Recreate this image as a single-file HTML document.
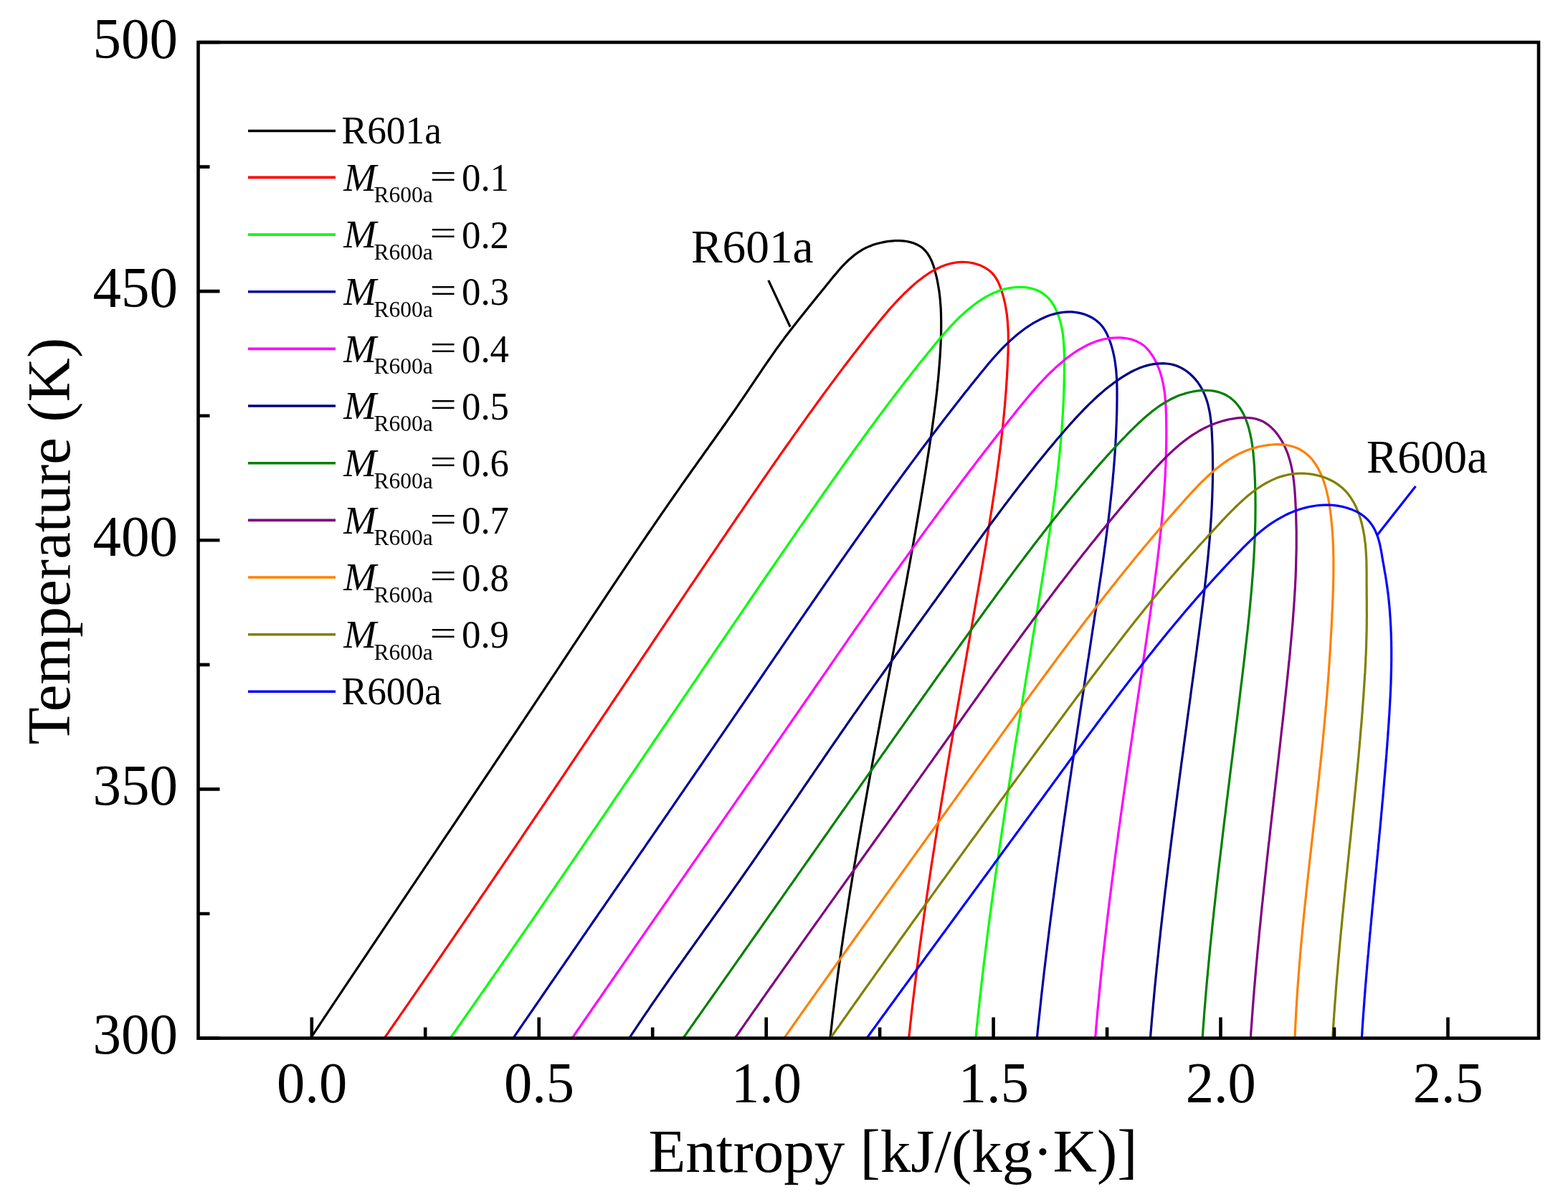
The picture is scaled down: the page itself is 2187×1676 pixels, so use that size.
<!DOCTYPE html>
<html><head><meta charset="utf-8"><title>T-s diagram</title>
<style>html,body{margin:0;padding:0;background:#fff;}svg{display:block;}</style>
</head><body>
<svg width="2187" height="1676" viewBox="0 0 2187 1676">
<rect x="0" y="0" width="2187" height="1676" fill="#ffffff"/>
<defs><clipPath id="pa"><rect x="276.5" y="59.0" width="1869.5" height="1388.6"/></clipPath></defs>
<g>
<g clip-path="url(#pa)" fill="none" stroke-width="3.2" stroke-linejoin="round">
<path d="M433.0,1448.0 L435.8,1443.7 L438.7,1439.5 L441.5,1435.2 L444.3,1431.0 L447.2,1426.7 L450.0,1422.4 L452.8,1418.2 L455.7,1413.9 L458.5,1409.7 L461.4,1405.4 L464.2,1401.1 L467.0,1396.9 L469.9,1392.6 L472.7,1388.4 L475.6,1384.1 L478.4,1379.9 L481.2,1375.6 L484.1,1371.4 L486.9,1367.1 L489.8,1362.9 L492.6,1358.6 L495.5,1354.3 L498.3,1350.1 L501.2,1345.8 L504.0,1341.6 L506.9,1337.3 L509.7,1333.1 L512.6,1328.8 L515.4,1324.6 L518.3,1320.3 L521.1,1316.1 L524.0,1311.8 L526.8,1307.6 L529.7,1303.3 L532.5,1299.1 L535.4,1294.8 L538.2,1290.6 L541.1,1286.3 L543.9,1282.1 L546.8,1277.9 L549.6,1273.6 L552.5,1269.4 L555.3,1265.1 L558.2,1260.9 L561.0,1256.6 L563.9,1252.4 L566.7,1248.1 L569.6,1243.9 L572.4,1239.6 L575.3,1235.4 L578.2,1231.1 L581.0,1226.9 L583.9,1222.6 L586.7,1218.4 L589.6,1214.2 L592.4,1209.9 L595.3,1205.7 L598.1,1201.4 L601.0,1197.2 L603.9,1192.9 L606.7,1188.7 L609.6,1184.4 L612.4,1180.2 L615.3,1175.9 L618.1,1171.7 L621.0,1167.4 L623.8,1163.2 L626.7,1159.0 L629.6,1154.7 L632.4,1150.5 L635.3,1146.2 L638.1,1142.0 L641.0,1137.7 L643.8,1133.5 L646.7,1129.2 L649.5,1125.0 L652.4,1120.7 L655.2,1116.5 L658.1,1112.2 L660.9,1108.0 L663.8,1103.7 L666.6,1099.5 L669.5,1095.2 L672.3,1091.0 L675.2,1086.7 L678.0,1082.5 L680.9,1078.2 L683.8,1074.0 L686.6,1069.7 L689.4,1065.5 L692.3,1061.2 L695.1,1057.0 L698.0,1052.7 L700.8,1048.5 L703.7,1044.2 L706.5,1040.0 L709.4,1035.7 L712.2,1031.5 L715.1,1027.2 L717.9,1023.0 L720.8,1018.7 L723.6,1014.5 L726.4,1010.2 L729.3,1006.0 L732.1,1001.7 L735.0,997.4 L737.8,993.2 L740.7,988.9 L743.5,984.7 L746.3,980.4 L749.2,976.2 L752.0,971.9 L754.8,967.6 L757.7,963.4 L760.5,959.1 L763.3,954.9 L766.2,950.6 L769.0,946.3 L771.8,942.1 L774.7,937.8 L777.5,933.5 L780.3,929.3 L783.2,925.0 L786.0,920.7 L788.8,916.5 L791.7,912.2 L794.5,907.9 L797.3,903.7 L800.1,899.4 L803.0,895.1 L805.8,890.9 L808.6,886.6 L811.4,882.3 L814.3,878.1 L817.1,873.8 L819.9,869.5 L822.7,865.3 L825.6,861.0 L828.4,856.7 L831.2,852.5 L834.1,848.2 L836.9,844.0 L839.7,839.7 L842.6,835.4 L845.4,831.2 L848.2,826.9 L851.1,822.6 L853.9,818.4 L856.7,814.1 L859.6,809.9 L862.4,805.6 L865.3,801.4 L868.1,797.1 L871.0,792.9 L873.8,788.6 L876.7,784.4 L879.5,780.1 L882.4,775.9 L885.2,771.6 L888.1,767.4 L891.0,763.2 L893.8,758.9 L896.7,754.7 L899.6,750.5 L902.5,746.2 L905.3,742.0 L908.2,737.8 L911.1,733.6 L914.0,729.3 L916.9,725.1 L919.8,720.9 L922.7,716.7 L925.6,712.5 L928.5,708.3 L931.4,704.1 L934.3,699.9 L937.3,695.7 L940.2,691.5 L943.1,687.3 L946.1,683.1 L949.0,678.9 L951.9,674.7 L954.9,670.5 L957.8,666.4 L960.8,662.2 L963.7,658.0 L966.7,653.8 L969.7,649.7 L972.6,645.5 L975.6,641.3 L978.6,637.2 L981.5,633.0 L984.5,628.8 L987.5,624.7 L990.4,620.5 L993.4,616.3 L996.4,612.2 L999.3,608.0 L1002.3,603.8 L1005.3,599.6 L1008.2,595.5 L1011.2,591.3 L1014.1,587.1 L1017.0,582.9 L1020.0,578.7 L1022.9,574.5 L1025.8,570.3 L1028.7,566.1 L1031.6,561.8 L1034.5,557.6 L1037.4,553.4 L1040.3,549.2 L1043.2,544.9 L1046.0,540.7 L1048.9,536.4 L1051.8,532.1 L1054.6,527.9 L1057.5,523.6 L1060.4,519.4 L1063.2,515.1 L1066.1,510.9 L1069.0,506.7 L1071.9,502.5 L1074.8,498.3 L1077.7,494.1 L1080.7,489.9 L1083.6,485.7 L1086.6,481.6 L1089.6,477.5 L1092.7,473.4 L1095.7,469.3 L1098.8,465.3 L1101.9,461.2 L1105.0,457.2 L1108.1,453.2 L1111.3,449.2 L1114.4,445.2 L1117.6,441.2 L1120.8,437.2 L1124.0,433.2 L1127.2,429.2 L1130.4,425.2 L1133.7,421.3 L1136.9,417.3 L1140.1,413.3 L1143.4,409.3 L1146.6,405.3 L1149.9,401.3 L1153.1,397.2 L1156.4,393.2 L1159.7,389.1 L1162.9,385.1 L1166.3,381.2 L1169.6,377.2 L1173.0,373.4 L1176.5,369.7 L1180.1,366.0 L1183.7,362.5 L1187.5,359.2 L1191.3,356.0 L1195.3,353.0 L1199.4,350.3 L1203.7,347.7 L1208.1,345.4 L1212.7,343.4 L1217.4,341.6 L1222.3,340.0 L1227.3,338.7 L1232.5,337.6 L1237.8,336.7 L1243.1,336.1 L1248.5,335.7 L1253.9,335.6 L1259.2,335.9 L1264.4,336.5 L1269.5,337.6 L1274.3,339.0 L1278.9,340.9 L1283.2,343.3 L1287.1,346.1 L1290.5,349.5 L1293.5,353.2 L1296.1,357.3 L1298.4,361.7 L1300.4,366.4 L1302.2,371.3 L1303.7,376.3 L1305.0,381.3 L1306.3,386.4 L1307.4,391.5 L1308.3,396.5 L1309.2,401.6 L1310.0,406.7 L1310.6,411.8 L1311.2,416.9 L1311.6,422.0 L1312.0,427.1 L1312.3,432.2 L1312.5,437.3 L1312.6,442.4 L1312.7,447.6 L1312.7,452.7 L1312.7,457.8 L1312.6,462.9 L1312.5,468.0 L1312.3,473.1 L1312.1,478.2 L1311.9,483.3 L1311.6,488.4 L1311.3,493.5 L1311.0,498.6 L1310.6,503.7 L1310.2,508.8 L1309.8,513.9 L1309.4,519.0 L1308.9,524.1 L1308.5,529.2 L1307.9,534.3 L1307.4,539.4 L1306.9,544.5 L1306.3,549.5 L1305.7,554.6 L1305.1,559.7 L1304.5,564.8 L1303.8,569.8 L1303.2,574.9 L1302.5,580.0 L1301.8,585.1 L1301.1,590.1 L1300.4,595.2 L1299.7,600.3 L1298.9,605.3 L1298.2,610.4 L1297.4,615.5 L1296.7,620.5 L1295.9,625.6 L1295.1,630.7 L1294.3,635.7 L1293.5,640.8 L1292.7,645.8 L1291.9,650.9 L1291.1,655.9 L1290.3,661.0 L1289.5,666.0 L1288.7,671.1 L1287.8,676.1 L1287.0,681.2 L1286.2,686.2 L1285.3,691.3 L1284.5,696.3 L1283.6,701.4 L1282.8,706.4 L1281.9,711.5 L1281.0,716.5 L1280.2,721.5 L1279.3,726.6 L1278.4,731.6 L1277.5,736.7 L1276.7,741.7 L1275.8,746.7 L1274.9,751.8 L1274.0,756.8 L1273.1,761.9 L1272.2,766.9 L1271.3,771.9 L1270.4,777.0 L1269.5,782.0 L1268.6,787.0 L1267.7,792.1 L1266.7,797.1 L1265.8,802.1 L1264.9,807.2 L1264.0,812.2 L1263.1,817.2 L1262.1,822.3 L1261.2,827.3 L1260.3,832.3 L1259.3,837.4 L1258.4,842.4 L1257.5,847.4 L1256.5,852.4 L1255.6,857.5 L1254.7,862.5 L1253.7,867.5 L1252.8,872.6 L1251.8,877.6 L1250.9,882.6 L1249.9,887.7 L1249.0,892.7 L1248.1,897.7 L1247.1,902.7 L1246.2,907.8 L1245.2,912.8 L1244.3,917.8 L1243.3,922.9 L1242.4,927.9 L1241.4,932.9 L1240.5,937.9 L1239.5,943.0 L1238.6,948.0 L1237.6,953.0 L1236.7,958.1 L1235.7,963.1 L1234.8,968.1 L1233.8,973.2 L1232.9,978.2 L1231.9,983.2 L1231.0,988.2 L1230.0,993.3 L1229.1,998.3 L1228.1,1003.3 L1227.2,1008.4 L1226.3,1013.4 L1225.3,1018.4 L1224.4,1023.5 L1223.4,1028.5 L1222.5,1033.5 L1221.6,1038.5 L1220.6,1043.6 L1219.7,1048.6 L1218.8,1053.6 L1217.8,1058.7 L1216.9,1063.7 L1216.0,1068.7 L1215.1,1073.8 L1214.1,1078.8 L1213.2,1083.8 L1212.3,1088.9 L1211.4,1093.9 L1210.5,1098.9 L1209.6,1104.0 L1208.7,1109.0 L1207.8,1114.1 L1206.9,1119.1 L1206.0,1124.1 L1205.1,1129.2 L1204.2,1134.2 L1203.3,1139.2 L1202.4,1144.3 L1201.5,1149.3 L1200.6,1154.4 L1199.8,1159.4 L1198.9,1164.4 L1198.0,1169.5 L1197.1,1174.5 L1196.3,1179.6 L1195.4,1184.6 L1194.6,1189.7 L1193.7,1194.7 L1192.9,1199.8 L1192.0,1204.8 L1191.2,1209.8 L1190.4,1214.9 L1189.5,1219.9 L1188.7,1225.0 L1187.9,1230.0 L1187.1,1235.1 L1186.2,1240.1 L1185.4,1245.2 L1184.6,1250.2 L1183.8,1255.3 L1183.0,1260.4 L1182.3,1265.4 L1181.5,1270.5 L1180.7,1275.5 L1179.9,1280.6 L1179.2,1285.6 L1178.4,1290.7 L1177.6,1295.8 L1176.9,1300.8 L1176.1,1305.9 L1175.4,1310.9 L1174.7,1316.0 L1173.9,1321.1 L1173.2,1326.1 L1172.5,1331.2 L1171.8,1336.3 L1171.1,1341.3 L1170.4,1346.4 L1169.7,1351.5 L1169.0,1356.5 L1168.3,1361.6 L1167.7,1366.7 L1167.0,1371.8 L1166.3,1376.8 L1165.7,1381.9 L1165.1,1387.0 L1164.4,1392.1 L1163.8,1397.1 L1163.2,1402.2 L1162.6,1407.3 L1161.9,1412.4 L1161.3,1417.5 L1160.7,1422.6 L1160.2,1427.6 L1159.6,1432.7 L1159.0,1437.8 L1158.5,1442.9 L1157.9,1448.0" stroke="#000000"/>
<path d="M535.8,1448.0 L538.6,1443.9 L541.5,1439.8 L544.3,1435.7 L547.2,1431.6 L550.0,1427.5 L552.8,1423.4 L555.7,1419.3 L558.5,1415.2 L561.4,1411.1 L564.2,1407.0 L567.0,1402.9 L569.9,1398.8 L572.7,1394.7 L575.5,1390.6 L578.4,1386.4 L581.2,1382.3 L584.0,1378.2 L586.8,1374.1 L589.7,1370.0 L592.5,1365.9 L595.3,1361.8 L598.2,1357.7 L601.0,1353.6 L603.8,1349.4 L606.6,1345.3 L609.4,1341.2 L612.3,1337.1 L615.1,1333.0 L617.9,1328.9 L620.7,1324.7 L623.5,1320.6 L626.4,1316.5 L629.2,1312.4 L632.0,1308.3 L634.8,1304.2 L637.6,1300.0 L640.4,1295.9 L643.2,1291.8 L646.1,1287.7 L648.9,1283.5 L651.7,1279.4 L654.5,1275.3 L657.3,1271.2 L660.1,1267.0 L662.9,1262.9 L665.7,1258.8 L668.5,1254.7 L671.3,1250.5 L674.1,1246.4 L677.0,1242.3 L679.8,1238.2 L682.6,1234.0 L685.4,1229.9 L688.2,1225.8 L691.0,1221.7 L693.8,1217.5 L696.6,1213.4 L699.4,1209.3 L702.2,1205.1 L705.0,1201.0 L707.8,1196.9 L710.6,1192.7 L713.4,1188.6 L716.2,1184.5 L719.0,1180.3 L721.8,1176.2 L724.6,1172.1 L727.4,1167.9 L730.1,1163.8 L732.9,1159.7 L735.7,1155.5 L738.5,1151.4 L741.3,1147.3 L744.1,1143.1 L746.9,1139.0 L749.7,1134.9 L752.5,1130.7 L755.3,1126.6 L758.1,1122.4 L760.9,1118.3 L763.6,1114.2 L766.4,1110.0 L769.2,1105.9 L772.0,1101.8 L774.8,1097.6 L777.6,1093.5 L780.4,1089.3 L783.2,1085.2 L786.0,1081.1 L788.7,1076.9 L791.5,1072.8 L794.3,1068.6 L797.1,1064.5 L799.9,1060.4 L802.7,1056.2 L805.4,1052.1 L808.2,1047.9 L811.0,1043.8 L813.8,1039.7 L816.6,1035.5 L819.4,1031.4 L822.2,1027.2 L824.9,1023.1 L827.7,1019.0 L830.5,1014.8 L833.3,1010.7 L836.1,1006.5 L838.8,1002.4 L841.6,998.2 L844.4,994.1 L847.2,990.0 L850.0,985.8 L852.7,981.7 L855.5,977.5 L858.3,973.4 L861.1,969.2 L863.9,965.1 L866.6,961.0 L869.4,956.8 L872.2,952.7 L875.0,948.5 L877.8,944.4 L880.5,940.2 L883.3,936.1 L886.1,932.0 L888.9,927.8 L891.7,923.7 L894.4,919.5 L897.2,915.4 L900.0,911.2 L902.8,907.1 L905.6,903.0 L908.3,898.8 L911.1,894.7 L913.9,890.5 L916.7,886.4 L919.5,882.2 L922.2,878.1 L925.0,874.0 L927.8,869.8 L930.6,865.7 L933.4,861.5 L936.2,857.4 L938.9,853.3 L941.7,849.1 L944.5,845.0 L947.3,840.8 L950.1,836.7 L952.9,832.6 L955.6,828.4 L958.4,824.3 L961.2,820.2 L964.0,816.0 L966.8,811.9 L969.6,807.8 L972.4,803.6 L975.2,799.5 L978.0,795.3 L980.8,791.2 L983.6,787.1 L986.4,782.9 L989.2,778.8 L992.0,774.7 L994.8,770.6 L997.6,766.4 L1000.4,762.3 L1003.2,758.2 L1006.0,754.0 L1008.8,749.9 L1011.6,745.8 L1014.4,741.7 L1017.2,737.5 L1020.0,733.4 L1022.8,729.3 L1025.6,725.2 L1028.4,721.0 L1031.2,716.9 L1034.1,712.8 L1036.9,708.7 L1039.7,704.6 L1042.5,700.4 L1045.3,696.3 L1048.2,692.2 L1051.0,688.1 L1053.8,684.0 L1056.7,679.9 L1059.5,675.7 L1062.3,671.6 L1065.2,667.5 L1068.0,663.4 L1070.8,659.3 L1073.7,655.2 L1076.5,651.1 L1079.4,647.0 L1082.2,642.9 L1085.1,638.8 L1087.9,634.7 L1090.8,630.6 L1093.7,626.5 L1096.5,622.5 L1099.4,618.4 L1102.3,614.3 L1105.2,610.2 L1108.0,606.1 L1110.9,602.1 L1113.8,598.0 L1116.7,593.9 L1119.6,589.9 L1122.5,585.8 L1125.4,581.8 L1128.3,577.7 L1131.2,573.7 L1134.2,569.6 L1137.1,565.6 L1140.0,561.5 L1143.0,557.5 L1145.9,553.5 L1148.8,549.4 L1151.8,545.4 L1154.8,541.4 L1157.7,537.4 L1160.7,533.4 L1163.7,529.4 L1166.6,525.4 L1169.6,521.4 L1172.6,517.4 L1175.6,513.4 L1178.6,509.5 L1181.6,505.5 L1184.7,501.5 L1187.7,497.6 L1190.7,493.6 L1193.8,489.7 L1196.8,485.7 L1199.9,481.8 L1202.9,477.9 L1206.0,474.0 L1209.1,470.0 L1212.2,466.1 L1215.2,462.2 L1218.3,458.3 L1221.5,454.4 L1224.6,450.6 L1227.7,446.7 L1230.9,442.8 L1234.1,439.0 L1237.3,435.2 L1240.5,431.4 L1243.8,427.7 L1247.2,424.0 L1250.5,420.3 L1254.0,416.7 L1257.5,413.1 L1261.0,409.5 L1264.6,406.1 L1268.3,402.6 L1272.0,399.2 L1275.8,395.9 L1279.7,392.6 L1283.7,389.5 L1287.7,386.4 L1291.9,383.5 L1296.1,380.7 L1300.3,378.1 L1304.7,375.7 L1309.1,373.5 L1313.6,371.5 L1318.1,369.7 L1322.8,368.2 L1327.5,367.1 L1332.3,366.2 L1337.1,365.6 L1342.0,365.4 L1347.0,365.5 L1352.0,366.0 L1357.0,366.9 L1362.0,368.2 L1366.7,369.8 L1371.3,371.9 L1375.7,374.3 L1379.7,377.2 L1383.4,380.4 L1386.6,384.1 L1389.4,388.1 L1391.8,392.4 L1393.9,397.0 L1395.7,401.7 L1397.3,406.5 L1398.8,411.3 L1400.1,416.1 L1401.2,420.9 L1402.3,425.8 L1403.1,430.7 L1403.9,435.6 L1404.6,440.5 L1405.1,445.5 L1405.5,450.4 L1405.8,455.4 L1406.1,460.4 L1406.3,465.3 L1406.3,470.3 L1406.4,475.3 L1406.3,480.3 L1406.2,485.4 L1406.1,490.4 L1405.9,495.4 L1405.7,500.4 L1405.5,505.4 L1405.3,510.4 L1405.0,515.4 L1404.7,520.4 L1404.5,525.4 L1404.1,530.4 L1403.8,535.4 L1403.5,540.4 L1403.1,545.4 L1402.7,550.3 L1402.3,555.3 L1401.9,560.3 L1401.5,565.3 L1401.0,570.3 L1400.6,575.2 L1400.1,580.2 L1399.6,585.2 L1399.1,590.1 L1398.6,595.1 L1398.0,600.0 L1397.5,605.0 L1396.9,610.0 L1396.3,614.9 L1395.8,619.9 L1395.2,624.8 L1394.6,629.8 L1393.9,634.7 L1393.3,639.7 L1392.6,644.6 L1392.0,649.5 L1391.3,654.5 L1390.6,659.4 L1390.0,664.4 L1389.3,669.3 L1388.6,674.2 L1387.8,679.2 L1387.1,684.1 L1386.4,689.0 L1385.6,694.0 L1384.9,698.9 L1384.1,703.8 L1383.4,708.7 L1382.6,713.7 L1381.8,718.6 L1381.0,723.5 L1380.2,728.4 L1379.4,733.4 L1378.6,738.3 L1377.8,743.2 L1377.0,748.1 L1376.2,753.0 L1375.4,758.0 L1374.5,762.9 L1373.7,767.8 L1372.9,772.7 L1372.0,777.6 L1371.2,782.5 L1370.3,787.5 L1369.5,792.4 L1368.6,797.3 L1367.8,802.2 L1366.9,807.1 L1366.1,812.0 L1365.2,816.9 L1364.4,821.9 L1363.5,826.8 L1362.6,831.7 L1361.8,836.6 L1360.9,841.5 L1360.1,846.4 L1359.2,851.3 L1358.3,856.3 L1357.5,861.2 L1356.6,866.1 L1355.7,871.0 L1354.9,875.9 L1354.0,880.8 L1353.2,885.7 L1352.3,890.7 L1351.4,895.6 L1350.6,900.5 L1349.7,905.4 L1348.8,910.3 L1348.0,915.2 L1347.1,920.1 L1346.3,925.1 L1345.4,930.0 L1344.5,934.9 L1343.7,939.8 L1342.8,944.7 L1341.9,949.6 L1341.1,954.6 L1340.2,959.5 L1339.4,964.4 L1338.5,969.3 L1337.7,974.2 L1336.8,979.1 L1335.9,984.1 L1335.1,989.0 L1334.2,993.9 L1333.4,998.8 L1332.5,1003.7 L1331.7,1008.6 L1330.8,1013.6 L1330.0,1018.5 L1329.1,1023.4 L1328.3,1028.3 L1327.5,1033.2 L1326.6,1038.2 L1325.8,1043.1 L1324.9,1048.0 L1324.1,1052.9 L1323.3,1057.8 L1322.4,1062.8 L1321.6,1067.7 L1320.8,1072.6 L1320.0,1077.5 L1319.1,1082.4 L1318.3,1087.4 L1317.5,1092.3 L1316.7,1097.2 L1315.9,1102.1 L1315.0,1107.1 L1314.2,1112.0 L1313.4,1116.9 L1312.6,1121.8 L1311.8,1126.8 L1311.0,1131.7 L1310.2,1136.6 L1309.4,1141.5 L1308.6,1146.5 L1307.8,1151.4 L1307.0,1156.3 L1306.3,1161.2 L1305.5,1166.2 L1304.7,1171.1 L1303.9,1176.0 L1303.2,1181.0 L1302.4,1185.9 L1301.6,1190.8 L1300.9,1195.7 L1300.1,1200.7 L1299.3,1205.6 L1298.6,1210.5 L1297.8,1215.5 L1297.1,1220.4 L1296.4,1225.3 L1295.6,1230.3 L1294.9,1235.2 L1294.2,1240.1 L1293.4,1245.1 L1292.7,1250.0 L1292.0,1255.0 L1291.3,1259.9 L1290.6,1264.8 L1289.8,1269.8 L1289.1,1274.7 L1288.4,1279.7 L1287.8,1284.6 L1287.1,1289.5 L1286.4,1294.5 L1285.7,1299.4 L1285.0,1304.4 L1284.4,1309.3 L1283.7,1314.3 L1283.0,1319.2 L1282.4,1324.1 L1281.7,1329.1 L1281.1,1334.0 L1280.4,1339.0 L1279.8,1343.9 L1279.1,1348.9 L1278.5,1353.8 L1277.9,1358.8 L1277.3,1363.7 L1276.7,1368.7 L1276.1,1373.6 L1275.5,1378.6 L1274.9,1383.5 L1274.3,1388.5 L1273.7,1393.4 L1273.1,1398.4 L1272.5,1403.4 L1271.9,1408.3 L1271.4,1413.3 L1270.8,1418.2 L1270.3,1423.2 L1269.7,1428.2 L1269.2,1433.1 L1268.7,1438.1 L1268.1,1443.0 L1267.6,1448.0" stroke="#FF0000"/>
<path d="M627.7,1448.0 L630.5,1444.0 L633.3,1440.1 L636.1,1436.1 L638.8,1432.1 L641.6,1428.2 L644.4,1424.2 L647.2,1420.2 L650.0,1416.2 L652.7,1412.3 L655.5,1408.3 L658.3,1404.3 L661.1,1400.3 L663.8,1396.4 L666.6,1392.4 L669.4,1388.4 L672.1,1384.4 L674.9,1380.5 L677.7,1376.5 L680.5,1372.5 L683.2,1368.5 L686.0,1364.5 L688.7,1360.6 L691.5,1356.6 L694.3,1352.6 L697.0,1348.6 L699.8,1344.6 L702.5,1340.6 L705.3,1336.7 L708.1,1332.7 L710.8,1328.7 L713.6,1324.7 L716.3,1320.7 L719.1,1316.7 L721.8,1312.7 L724.6,1308.7 L727.3,1304.7 L730.1,1300.8 L732.8,1296.8 L735.6,1292.8 L738.3,1288.8 L741.1,1284.8 L743.8,1280.8 L746.6,1276.8 L749.3,1272.8 L752.1,1268.8 L754.8,1264.8 L757.5,1260.8 L760.3,1256.8 L763.0,1252.8 L765.8,1248.8 L768.5,1244.8 L771.2,1240.8 L774.0,1236.8 L776.7,1232.8 L779.5,1228.9 L782.2,1224.9 L784.9,1220.9 L787.7,1216.9 L790.4,1212.9 L793.1,1208.9 L795.9,1204.9 L798.6,1200.8 L801.3,1196.8 L804.1,1192.8 L806.8,1188.8 L809.5,1184.8 L812.3,1180.8 L815.0,1176.8 L817.7,1172.8 L820.4,1168.8 L823.2,1164.8 L825.9,1160.8 L828.6,1156.8 L831.4,1152.8 L834.1,1148.8 L836.8,1144.8 L839.5,1140.8 L842.3,1136.8 L845.0,1132.8 L847.7,1128.8 L850.4,1124.8 L853.2,1120.8 L855.9,1116.7 L858.6,1112.7 L861.3,1108.7 L864.1,1104.7 L866.8,1100.7 L869.5,1096.7 L872.2,1092.7 L874.9,1088.7 L877.7,1084.7 L880.4,1080.7 L883.1,1076.7 L885.8,1072.6 L888.6,1068.6 L891.3,1064.6 L894.0,1060.6 L896.7,1056.6 L899.4,1052.6 L902.2,1048.6 L904.9,1044.6 L907.6,1040.6 L910.3,1036.5 L913.0,1032.5 L915.8,1028.5 L918.5,1024.5 L921.2,1020.5 L923.9,1016.5 L926.6,1012.5 L929.4,1008.5 L932.1,1004.5 L934.8,1000.4 L937.5,996.4 L940.2,992.4 L943.0,988.4 L945.7,984.4 L948.4,980.4 L951.1,976.4 L953.8,972.4 L956.6,968.3 L959.3,964.3 L962.0,960.3 L964.7,956.3 L967.4,952.3 L970.2,948.3 L972.9,944.3 L975.6,940.3 L978.3,936.3 L981.1,932.2 L983.8,928.2 L986.5,924.2 L989.2,920.2 L992.0,916.2 L994.7,912.2 L997.4,908.2 L1000.1,904.2 L1002.8,900.2 L1005.6,896.1 L1008.3,892.1 L1011.0,888.1 L1013.8,884.1 L1016.5,880.1 L1019.2,876.1 L1021.9,872.1 L1024.7,868.1 L1027.4,864.1 L1030.1,860.1 L1032.9,856.1 L1035.6,852.1 L1038.3,848.1 L1041.1,844.1 L1043.8,840.0 L1046.5,836.0 L1049.3,832.0 L1052.0,828.0 L1054.7,824.0 L1057.5,820.0 L1060.2,816.0 L1062.9,812.0 L1065.7,808.0 L1068.4,804.0 L1071.2,800.0 L1073.9,796.0 L1076.6,792.1 L1079.4,788.1 L1082.1,784.1 L1084.9,780.1 L1087.6,776.1 L1090.4,772.1 L1093.1,768.1 L1095.9,764.1 L1098.6,760.1 L1101.4,756.1 L1104.1,752.1 L1106.9,748.2 L1109.6,744.2 L1112.4,740.2 L1115.1,736.2 L1117.9,732.2 L1120.7,728.2 L1123.4,724.3 L1126.2,720.3 L1129.0,716.3 L1131.7,712.3 L1134.5,708.3 L1137.3,704.4 L1140.0,700.4 L1142.8,696.4 L1145.6,692.5 L1148.3,688.5 L1151.1,684.5 L1153.9,680.6 L1156.7,676.6 L1159.5,672.6 L1162.3,668.7 L1165.1,664.7 L1167.9,660.8 L1170.7,656.8 L1173.5,652.9 L1176.3,648.9 L1179.1,645.0 L1181.9,641.0 L1184.7,637.1 L1187.5,633.2 L1190.3,629.2 L1193.2,625.3 L1196.0,621.4 L1198.9,617.4 L1201.7,613.5 L1204.5,609.6 L1207.4,605.7 L1210.3,601.8 L1213.1,597.9 L1216.0,594.0 L1218.9,590.1 L1221.7,586.2 L1224.6,582.3 L1227.5,578.4 L1230.4,574.5 L1233.3,570.6 L1236.2,566.7 L1239.1,562.9 L1242.1,559.0 L1245.0,555.1 L1247.9,551.3 L1250.9,547.4 L1253.8,543.6 L1256.8,539.7 L1259.7,535.9 L1262.7,532.0 L1265.7,528.2 L1268.7,524.4 L1271.7,520.6 L1274.7,516.7 L1277.7,512.9 L1280.7,509.1 L1283.7,505.3 L1286.8,501.5 L1289.8,497.7 L1292.9,494.0 L1295.9,490.2 L1299.0,486.4 L1302.1,482.6 L1305.2,478.9 L1308.3,475.1 L1311.4,471.4 L1314.6,467.7 L1317.7,464.1 L1321.0,460.5 L1324.2,456.9 L1327.5,453.3 L1330.8,449.8 L1334.2,446.4 L1337.7,443.0 L1341.2,439.7 L1344.7,436.5 L1348.3,433.3 L1352.0,430.2 L1355.7,427.2 L1359.6,424.3 L1363.5,421.4 L1367.4,418.7 L1371.5,416.1 L1375.6,413.7 L1379.9,411.4 L1384.2,409.3 L1388.6,407.4 L1393.1,405.6 L1397.7,404.1 L1402.3,402.8 L1407.1,401.8 L1412.0,401.0 L1417.0,400.5 L1422.0,400.3 L1427.0,400.4 L1431.9,400.8 L1436.7,401.7 L1441.4,402.9 L1445.9,404.5 L1450.1,406.5 L1454.2,408.9 L1457.9,411.7 L1461.5,414.9 L1464.7,418.4 L1467.6,422.2 L1470.1,426.4 L1472.4,430.8 L1474.4,435.3 L1476.2,439.9 L1477.7,444.5 L1479.1,449.2 L1480.2,453.8 L1481.2,458.6 L1482.0,463.3 L1482.7,468.1 L1483.2,472.9 L1483.6,477.7 L1483.9,482.6 L1484.1,487.4 L1484.3,492.3 L1484.4,497.1 L1484.4,502.0 L1484.4,506.9 L1484.4,511.7 L1484.4,516.6 L1484.4,521.4 L1484.3,526.3 L1484.2,531.1 L1484.1,536.0 L1484.0,540.8 L1483.8,545.7 L1483.7,550.5 L1483.5,555.4 L1483.3,560.2 L1483.0,565.0 L1482.8,569.9 L1482.5,574.7 L1482.2,579.5 L1481.9,584.4 L1481.6,589.2 L1481.2,594.0 L1480.9,598.9 L1480.5,603.7 L1480.1,608.5 L1479.7,613.3 L1479.3,618.2 L1478.8,623.0 L1478.4,627.8 L1477.9,632.6 L1477.4,637.4 L1476.9,642.3 L1476.4,647.1 L1475.9,651.9 L1475.4,656.7 L1474.8,661.5 L1474.2,666.3 L1473.7,671.1 L1473.1,675.9 L1472.5,680.7 L1471.9,685.5 L1471.3,690.3 L1470.6,695.1 L1470.0,700.0 L1469.3,704.8 L1468.7,709.6 L1468.0,714.4 L1467.3,719.2 L1466.7,724.0 L1466.0,728.7 L1465.3,733.5 L1464.6,738.3 L1463.8,743.1 L1463.1,747.9 L1462.4,752.7 L1461.7,757.5 L1460.9,762.3 L1460.2,767.1 L1459.4,771.9 L1458.7,776.7 L1457.9,781.5 L1457.2,786.3 L1456.4,791.1 L1455.7,795.9 L1454.9,800.6 L1454.1,805.4 L1453.4,810.2 L1452.6,815.0 L1451.8,819.8 L1451.0,824.6 L1450.3,829.4 L1449.5,834.2 L1448.7,838.9 L1447.9,843.7 L1447.2,848.5 L1446.4,853.3 L1445.6,858.1 L1444.8,862.9 L1444.0,867.7 L1443.3,872.4 L1442.5,877.2 L1441.7,882.0 L1440.9,886.8 L1440.1,891.6 L1439.3,896.4 L1438.6,901.2 L1437.8,905.9 L1437.0,910.7 L1436.2,915.5 L1435.4,920.3 L1434.7,925.1 L1433.9,929.9 L1433.1,934.7 L1432.3,939.4 L1431.5,944.2 L1430.7,949.0 L1430.0,953.8 L1429.2,958.6 L1428.4,963.4 L1427.6,968.1 L1426.8,972.9 L1426.1,977.7 L1425.3,982.5 L1424.5,987.3 L1423.7,992.1 L1422.9,996.9 L1422.2,1001.6 L1421.4,1006.4 L1420.6,1011.2 L1419.9,1016.0 L1419.1,1020.8 L1418.3,1025.6 L1417.5,1030.3 L1416.8,1035.1 L1416.0,1039.9 L1415.2,1044.7 L1414.5,1049.5 L1413.7,1054.3 L1413.0,1059.1 L1412.2,1063.8 L1411.4,1068.6 L1410.7,1073.4 L1409.9,1078.2 L1409.2,1083.0 L1408.4,1087.8 L1407.7,1092.6 L1406.9,1097.4 L1406.2,1102.1 L1405.4,1106.9 L1404.7,1111.7 L1404.0,1116.5 L1403.2,1121.3 L1402.5,1126.1 L1401.8,1130.9 L1401.0,1135.7 L1400.3,1140.5 L1399.6,1145.2 L1398.9,1150.0 L1398.1,1154.8 L1397.4,1159.6 L1396.7,1164.4 L1396.0,1169.2 L1395.3,1174.0 L1394.6,1178.8 L1393.9,1183.6 L1393.2,1188.4 L1392.5,1193.2 L1391.8,1198.0 L1391.1,1202.7 L1390.4,1207.5 L1389.7,1212.3 L1389.0,1217.1 L1388.3,1221.9 L1387.7,1226.7 L1387.0,1231.5 L1386.3,1236.3 L1385.6,1241.1 L1385.0,1245.9 L1384.3,1250.7 L1383.7,1255.5 L1383.0,1260.3 L1382.4,1265.1 L1381.7,1269.9 L1381.1,1274.7 L1380.4,1279.5 L1379.8,1284.3 L1379.2,1289.1 L1378.5,1293.9 L1377.9,1298.7 L1377.3,1303.5 L1376.7,1308.3 L1376.1,1313.2 L1375.5,1318.0 L1374.9,1322.8 L1374.3,1327.6 L1373.7,1332.4 L1373.1,1337.2 L1372.5,1342.0 L1371.9,1346.8 L1371.4,1351.6 L1370.8,1356.4 L1370.2,1361.2 L1369.7,1366.1 L1369.1,1370.9 L1368.5,1375.7 L1368.0,1380.5 L1367.5,1385.3 L1366.9,1390.1 L1366.4,1395.0 L1365.9,1399.8 L1365.3,1404.6 L1364.8,1409.4 L1364.3,1414.2 L1363.8,1419.1 L1363.3,1423.9 L1362.8,1428.7 L1362.3,1433.5 L1361.8,1438.3 L1361.4,1443.2 L1360.9,1448.0" stroke="#00FF00"/>
<path d="M715.5,1448.0 L718.2,1444.1 L720.8,1440.2 L723.5,1436.4 L726.1,1432.5 L728.8,1428.6 L731.4,1424.7 L734.1,1420.9 L736.8,1417.0 L739.4,1413.1 L742.1,1409.3 L744.7,1405.4 L747.4,1401.5 L750.1,1397.6 L752.7,1393.8 L755.4,1389.9 L758.1,1386.0 L760.7,1382.1 L763.4,1378.3 L766.0,1374.4 L768.7,1370.5 L771.4,1366.6 L774.0,1362.8 L776.7,1358.9 L779.4,1355.0 L782.0,1351.2 L784.7,1347.3 L787.4,1343.4 L790.0,1339.5 L792.7,1335.7 L795.4,1331.8 L798.0,1327.9 L800.7,1324.0 L803.4,1320.2 L806.0,1316.3 L808.7,1312.4 L811.3,1308.6 L814.0,1304.7 L816.7,1300.8 L819.3,1296.9 L822.0,1293.1 L824.7,1289.2 L827.3,1285.3 L830.0,1281.5 L832.7,1277.6 L835.3,1273.7 L838.0,1269.8 L840.7,1266.0 L843.4,1262.1 L846.0,1258.2 L848.7,1254.4 L851.4,1250.5 L854.0,1246.6 L856.7,1242.7 L859.4,1238.9 L862.0,1235.0 L864.7,1231.1 L867.4,1227.2 L870.0,1223.4 L872.7,1219.5 L875.4,1215.6 L878.0,1211.8 L880.7,1207.9 L883.4,1204.0 L886.0,1200.1 L888.7,1196.3 L891.4,1192.4 L894.0,1188.5 L896.7,1184.7 L899.4,1180.8 L902.0,1176.9 L904.7,1173.0 L907.4,1169.2 L910.0,1165.3 L912.7,1161.4 L915.4,1157.5 L918.0,1153.7 L920.7,1149.8 L923.4,1145.9 L926.0,1142.1 L928.7,1138.2 L931.4,1134.3 L934.0,1130.4 L936.7,1126.6 L939.4,1122.7 L942.0,1118.8 L944.7,1114.9 L947.3,1111.1 L950.0,1107.2 L952.7,1103.3 L955.3,1099.4 L958.0,1095.6 L960.7,1091.7 L963.3,1087.8 L966.0,1084.0 L968.6,1080.1 L971.3,1076.2 L974.0,1072.3 L976.6,1068.5 L979.3,1064.6 L982.0,1060.7 L984.6,1056.8 L987.3,1053.0 L989.9,1049.1 L992.6,1045.2 L995.3,1041.3 L997.9,1037.4 L1000.6,1033.6 L1003.2,1029.7 L1005.9,1025.8 L1008.5,1021.9 L1011.2,1018.1 L1013.9,1014.2 L1016.5,1010.3 L1019.2,1006.4 L1021.8,1002.6 L1024.5,998.7 L1027.1,994.8 L1029.8,990.9 L1032.4,987.0 L1035.1,983.2 L1037.7,979.3 L1040.4,975.4 L1043.1,971.5 L1045.7,967.6 L1048.4,963.8 L1051.0,959.9 L1053.7,956.0 L1056.3,952.1 L1059.0,948.3 L1061.6,944.4 L1064.3,940.5 L1066.9,936.6 L1069.6,932.7 L1072.2,928.9 L1074.9,925.0 L1077.5,921.1 L1080.2,917.2 L1082.8,913.3 L1085.5,909.5 L1088.1,905.6 L1090.8,901.7 L1093.4,897.8 L1096.1,893.9 L1098.7,890.1 L1101.4,886.2 L1104.0,882.3 L1106.7,878.4 L1109.4,874.6 L1112.0,870.7 L1114.7,866.8 L1117.3,862.9 L1120.0,859.1 L1122.7,855.2 L1125.3,851.3 L1128.0,847.5 L1130.7,843.6 L1133.3,839.7 L1136.0,835.9 L1138.7,832.0 L1141.3,828.1 L1144.0,824.3 L1146.7,820.4 L1149.4,816.5 L1152.0,812.7 L1154.7,808.8 L1157.4,804.9 L1160.1,801.1 L1162.8,797.2 L1165.4,793.4 L1168.1,789.5 L1170.8,785.6 L1173.5,781.8 L1176.2,777.9 L1178.9,774.1 L1181.6,770.2 L1184.3,766.4 L1187.0,762.5 L1189.7,758.7 L1192.4,754.8 L1195.2,751.0 L1197.9,747.1 L1200.6,743.3 L1203.3,739.5 L1206.0,735.6 L1208.8,731.8 L1211.5,728.0 L1214.2,724.1 L1216.9,720.3 L1219.7,716.5 L1222.4,712.6 L1225.2,708.8 L1227.9,705.0 L1230.7,701.2 L1233.4,697.3 L1236.2,693.5 L1238.9,689.7 L1241.7,685.9 L1244.4,682.1 L1247.2,678.3 L1250.0,674.5 L1252.8,670.7 L1255.5,666.9 L1258.3,663.1 L1261.1,659.3 L1263.9,655.5 L1266.7,651.7 L1269.5,647.9 L1272.3,644.1 L1275.1,640.4 L1277.9,636.6 L1280.7,632.8 L1283.5,629.0 L1286.3,625.3 L1289.1,621.5 L1292.0,617.8 L1294.8,614.0 L1297.6,610.3 L1300.5,606.5 L1303.3,602.8 L1306.2,599.0 L1309.0,595.3 L1311.9,591.6 L1314.7,587.8 L1317.6,584.1 L1320.4,580.4 L1323.3,576.7 L1326.2,573.0 L1329.1,569.3 L1332.0,565.6 L1334.8,561.9 L1337.7,558.2 L1340.6,554.5 L1343.5,550.8 L1346.4,547.1 L1349.4,543.5 L1352.3,539.8 L1355.2,536.1 L1358.1,532.5 L1361.1,528.8 L1364.0,525.2 L1366.9,521.5 L1369.9,517.9 L1372.9,514.3 L1375.8,510.7 L1378.8,507.1 L1381.9,503.5 L1384.9,500.0 L1388.0,496.5 L1391.2,493.0 L1394.3,489.6 L1397.6,486.2 L1400.8,482.9 L1404.2,479.6 L1407.6,476.4 L1411.0,473.2 L1414.6,470.1 L1418.2,467.0 L1421.9,464.1 L1425.6,461.2 L1429.5,458.3 L1433.4,455.6 L1437.4,453.0 L1441.5,450.4 L1445.7,448.1 L1450.0,445.8 L1454.3,443.7 L1458.6,441.8 L1463.0,440.1 L1467.5,438.6 L1472.0,437.4 L1476.5,436.3 L1481.1,435.6 L1485.7,435.1 L1490.3,434.9 L1495.0,434.9 L1499.6,435.3 L1504.2,436.1 L1508.8,437.1 L1513.3,438.5 L1517.6,440.2 L1521.8,442.2 L1525.7,444.5 L1529.5,447.2 L1532.9,450.2 L1536.1,453.5 L1538.9,457.1 L1541.4,461.0 L1543.6,465.1 L1545.6,469.4 L1547.4,473.8 L1549.0,478.3 L1550.4,482.8 L1551.7,487.3 L1552.8,491.9 L1553.8,496.4 L1554.7,501.0 L1555.4,505.7 L1556.0,510.3 L1556.6,515.0 L1557.0,519.7 L1557.3,524.4 L1557.6,529.1 L1557.8,533.8 L1557.9,538.6 L1558.0,543.3 L1558.0,548.0 L1558.0,552.8 L1558.0,557.5 L1557.9,562.2 L1557.9,567.0 L1557.8,571.7 L1557.7,576.4 L1557.5,581.1 L1557.4,585.9 L1557.2,590.6 L1557.0,595.3 L1556.8,600.0 L1556.6,604.7 L1556.4,609.4 L1556.1,614.1 L1555.9,618.8 L1555.6,623.5 L1555.3,628.2 L1555.0,632.9 L1554.6,637.6 L1554.3,642.3 L1553.9,647.0 L1553.5,651.7 L1553.2,656.3 L1552.7,661.0 L1552.3,665.7 L1551.9,670.4 L1551.5,675.1 L1551.0,679.7 L1550.5,684.4 L1550.0,689.1 L1549.5,693.8 L1549.0,698.4 L1548.5,703.1 L1548.0,707.8 L1547.5,712.4 L1546.9,717.1 L1546.4,721.7 L1545.8,726.4 L1545.2,731.1 L1544.6,735.7 L1544.0,740.4 L1543.4,745.0 L1542.8,749.7 L1542.2,754.3 L1541.6,759.0 L1540.9,763.6 L1540.3,768.3 L1539.7,772.9 L1539.0,777.6 L1538.4,782.2 L1537.7,786.9 L1537.0,791.5 L1536.4,796.2 L1535.7,800.8 L1535.0,805.5 L1534.3,810.1 L1533.6,814.8 L1532.9,819.4 L1532.2,824.1 L1531.6,828.7 L1530.9,833.3 L1530.2,838.0 L1529.5,842.6 L1528.8,847.3 L1528.1,851.9 L1527.3,856.6 L1526.6,861.2 L1525.9,865.9 L1525.2,870.5 L1524.5,875.1 L1523.8,879.8 L1523.1,884.4 L1522.4,889.1 L1521.7,893.7 L1521.0,898.4 L1520.3,903.0 L1519.6,907.7 L1518.9,912.3 L1518.2,917.0 L1517.4,921.6 L1516.7,926.2 L1516.0,930.9 L1515.3,935.5 L1514.6,940.2 L1513.9,944.8 L1513.2,949.5 L1512.5,954.1 L1511.8,958.8 L1511.1,963.4 L1510.4,968.1 L1509.7,972.7 L1508.9,977.4 L1508.2,982.0 L1507.5,986.7 L1506.8,991.3 L1506.1,996.0 L1505.4,1000.6 L1504.7,1005.3 L1504.0,1009.9 L1503.3,1014.6 L1502.6,1019.2 L1501.9,1023.9 L1501.2,1028.5 L1500.5,1033.1 L1499.8,1037.8 L1499.1,1042.4 L1498.4,1047.1 L1497.7,1051.8 L1497.0,1056.4 L1496.3,1061.1 L1495.6,1065.7 L1494.9,1070.4 L1494.2,1075.0 L1493.6,1079.7 L1492.9,1084.3 L1492.2,1089.0 L1491.5,1093.6 L1490.8,1098.3 L1490.1,1102.9 L1489.4,1107.6 L1488.8,1112.2 L1488.1,1116.9 L1487.4,1121.5 L1486.7,1126.2 L1486.1,1130.8 L1485.4,1135.5 L1484.7,1140.2 L1484.0,1144.8 L1483.4,1149.5 L1482.7,1154.1 L1482.1,1158.8 L1481.4,1163.4 L1480.7,1168.1 L1480.1,1172.7 L1479.4,1177.4 L1478.8,1182.1 L1478.1,1186.7 L1477.5,1191.4 L1476.8,1196.0 L1476.2,1200.7 L1475.5,1205.3 L1474.9,1210.0 L1474.3,1214.7 L1473.6,1219.3 L1473.0,1224.0 L1472.4,1228.6 L1471.7,1233.3 L1471.1,1238.0 L1470.5,1242.6 L1469.9,1247.3 L1469.3,1251.9 L1468.6,1256.6 L1468.0,1261.3 L1467.4,1265.9 L1466.8,1270.6 L1466.2,1275.2 L1465.6,1279.9 L1465.0,1284.6 L1464.4,1289.2 L1463.8,1293.9 L1463.2,1298.6 L1462.7,1303.2 L1462.1,1307.9 L1461.5,1312.6 L1460.9,1317.2 L1460.4,1321.9 L1459.8,1326.6 L1459.2,1331.2 L1458.7,1335.9 L1458.1,1340.6 L1457.5,1345.2 L1457.0,1349.9 L1456.4,1354.6 L1455.9,1359.2 L1455.4,1363.9 L1454.8,1368.6 L1454.3,1373.2 L1453.8,1377.9 L1453.2,1382.6 L1452.7,1387.2 L1452.2,1391.9 L1451.7,1396.6 L1451.2,1401.3 L1450.7,1405.9 L1450.2,1410.6 L1449.7,1415.3 L1449.2,1420.0 L1448.7,1424.6 L1448.2,1429.3 L1447.7,1434.0 L1447.2,1438.6 L1446.8,1443.3 L1446.3,1448.0" stroke="#0000A0"/>
<path d="M797.8,1448.0 L800.4,1444.2 L802.9,1440.5 L805.5,1436.7 L808.1,1433.0 L810.7,1429.2 L813.2,1425.5 L815.8,1421.7 L818.4,1418.0 L821.0,1414.2 L823.6,1410.5 L826.1,1406.7 L828.7,1403.0 L831.3,1399.2 L833.9,1395.5 L836.5,1391.8 L839.1,1388.0 L841.6,1384.3 L844.2,1380.5 L846.8,1376.8 L849.4,1373.0 L852.0,1369.3 L854.6,1365.5 L857.2,1361.8 L859.7,1358.0 L862.3,1354.3 L864.9,1350.6 L867.5,1346.8 L870.1,1343.1 L872.7,1339.3 L875.3,1335.6 L877.9,1331.8 L880.5,1328.1 L883.0,1324.3 L885.6,1320.6 L888.2,1316.9 L890.8,1313.1 L893.4,1309.4 L896.0,1305.6 L898.6,1301.9 L901.2,1298.2 L903.8,1294.4 L906.4,1290.7 L909.0,1286.9 L911.6,1283.2 L914.2,1279.4 L916.8,1275.7 L919.4,1272.0 L922.0,1268.2 L924.6,1264.5 L927.2,1260.7 L929.8,1257.0 L932.4,1253.3 L935.0,1249.5 L937.5,1245.8 L940.1,1242.0 L942.7,1238.3 L945.3,1234.6 L947.9,1230.8 L950.5,1227.1 L953.1,1223.4 L955.7,1219.6 L958.3,1215.9 L960.9,1212.1 L963.5,1208.4 L966.1,1204.7 L968.7,1200.9 L971.3,1197.2 L973.9,1193.4 L976.5,1189.7 L979.1,1186.0 L981.7,1182.2 L984.3,1178.5 L986.9,1174.8 L989.5,1171.0 L992.1,1167.3 L994.7,1163.5 L997.3,1159.8 L999.9,1156.1 L1002.5,1152.3 L1005.1,1148.6 L1007.7,1144.8 L1010.3,1141.1 L1012.9,1137.4 L1015.5,1133.6 L1018.1,1129.9 L1020.7,1126.2 L1023.3,1122.4 L1025.9,1118.7 L1028.5,1114.9 L1031.1,1111.2 L1033.7,1107.5 L1036.3,1103.7 L1038.9,1100.0 L1041.5,1096.2 L1044.1,1092.5 L1046.7,1088.8 L1049.3,1085.0 L1051.9,1081.3 L1054.5,1077.5 L1057.1,1073.8 L1059.7,1070.1 L1062.3,1066.3 L1064.9,1062.6 L1067.4,1058.8 L1070.0,1055.1 L1072.6,1051.4 L1075.2,1047.6 L1077.8,1043.9 L1080.4,1040.1 L1083.0,1036.4 L1085.6,1032.7 L1088.2,1028.9 L1090.8,1025.2 L1093.4,1021.4 L1096.0,1017.7 L1098.5,1013.9 L1101.1,1010.2 L1103.7,1006.5 L1106.3,1002.7 L1108.9,999.0 L1111.5,995.2 L1114.1,991.5 L1116.7,987.7 L1119.2,984.0 L1121.8,980.3 L1124.4,976.5 L1127.0,972.8 L1129.6,969.0 L1132.2,965.3 L1134.8,961.5 L1137.3,957.8 L1139.9,954.0 L1142.5,950.3 L1145.1,946.6 L1147.7,942.8 L1150.3,939.1 L1152.9,935.3 L1155.4,931.6 L1158.0,927.8 L1160.6,924.1 L1163.2,920.4 L1165.8,916.6 L1168.4,912.9 L1171.0,909.1 L1173.6,905.4 L1176.2,901.7 L1178.8,897.9 L1181.4,894.2 L1183.9,890.4 L1186.5,886.7 L1189.1,883.0 L1191.7,879.2 L1194.3,875.5 L1196.9,871.8 L1199.6,868.0 L1202.2,864.3 L1204.8,860.6 L1207.4,856.8 L1210.0,853.1 L1212.6,849.4 L1215.2,845.7 L1217.8,841.9 L1220.4,838.2 L1223.1,834.5 L1225.7,830.8 L1228.3,827.0 L1230.9,823.3 L1233.6,819.6 L1236.2,815.9 L1238.8,812.2 L1241.5,808.4 L1244.1,804.7 L1246.7,801.0 L1249.4,797.3 L1252.0,793.6 L1254.7,789.9 L1257.3,786.2 L1260.0,782.5 L1262.6,778.8 L1265.3,775.1 L1267.9,771.4 L1270.6,767.7 L1273.3,764.0 L1275.9,760.3 L1278.6,756.6 L1281.3,752.9 L1283.9,749.2 L1286.6,745.5 L1289.3,741.8 L1292.0,738.1 L1294.7,734.4 L1297.4,730.8 L1300.1,727.1 L1302.8,723.4 L1305.5,719.7 L1308.2,716.1 L1310.9,712.4 L1313.6,708.7 L1316.3,705.1 L1319.0,701.4 L1321.7,697.8 L1324.5,694.1 L1327.2,690.5 L1329.9,686.8 L1332.6,683.2 L1335.4,679.5 L1338.1,675.9 L1340.8,672.2 L1343.6,668.6 L1346.3,665.0 L1349.1,661.3 L1351.8,657.7 L1354.6,654.1 L1357.4,650.5 L1360.1,646.9 L1362.9,643.2 L1365.7,639.6 L1368.4,636.0 L1371.2,632.4 L1374.0,628.8 L1376.8,625.2 L1379.5,621.7 L1382.3,618.1 L1385.1,614.5 L1387.9,610.9 L1390.7,607.3 L1393.5,603.8 L1396.3,600.2 L1399.2,596.6 L1402.0,593.1 L1404.8,589.5 L1407.6,586.0 L1410.4,582.4 L1413.3,578.9 L1416.1,575.3 L1418.9,571.8 L1421.8,568.3 L1424.6,564.8 L1427.5,561.3 L1430.4,557.8 L1433.3,554.3 L1436.2,550.8 L1439.1,547.4 L1442.1,543.9 L1445.1,540.5 L1448.1,537.2 L1451.2,533.8 L1454.3,530.5 L1457.4,527.2 L1460.6,523.9 L1463.8,520.7 L1467.1,517.5 L1470.5,514.4 L1473.8,511.2 L1477.3,508.2 L1480.8,505.2 L1484.4,502.2 L1488.0,499.3 L1491.7,496.5 L1495.4,493.8 L1499.2,491.2 L1503.1,488.7 L1507.0,486.3 L1511.0,484.1 L1515.1,482.0 L1519.2,480.0 L1523.3,478.2 L1527.5,476.6 L1531.8,475.1 L1536.2,473.9 L1540.6,472.8 L1545.0,472.0 L1549.5,471.4 L1554.1,471.0 L1558.7,470.8 L1563.3,470.9 L1567.9,471.3 L1572.4,472.0 L1576.8,472.9 L1581.1,474.2 L1585.3,475.8 L1589.2,477.8 L1592.9,480.1 L1596.4,482.8 L1599.6,485.9 L1602.6,489.3 L1605.3,492.9 L1607.9,496.7 L1610.2,500.6 L1612.3,504.7 L1614.2,508.8 L1615.9,512.9 L1617.5,517.1 L1618.9,521.4 L1620.1,525.7 L1621.2,530.1 L1622.2,534.5 L1623.0,538.9 L1623.8,543.4 L1624.4,547.9 L1624.9,552.4 L1625.3,557.0 L1625.7,561.5 L1626.0,566.1 L1626.2,570.7 L1626.4,575.3 L1626.5,579.9 L1626.6,584.5 L1626.7,589.1 L1626.7,593.7 L1626.8,598.3 L1626.8,602.9 L1626.8,607.5 L1626.8,612.1 L1626.7,616.7 L1626.6,621.3 L1626.6,625.9 L1626.4,630.4 L1626.3,635.0 L1626.2,639.6 L1626.0,644.2 L1625.8,648.7 L1625.6,653.3 L1625.4,657.9 L1625.2,662.4 L1625.0,667.0 L1624.7,671.5 L1624.4,676.1 L1624.1,680.6 L1623.8,685.2 L1623.5,689.7 L1623.2,694.2 L1622.8,698.8 L1622.5,703.3 L1622.1,707.9 L1621.7,712.4 L1621.3,716.9 L1620.9,721.4 L1620.4,726.0 L1620.0,730.5 L1619.6,735.0 L1619.1,739.5 L1618.6,744.1 L1618.1,748.6 L1617.6,753.1 L1617.1,757.6 L1616.6,762.1 L1616.1,766.6 L1615.6,771.1 L1615.0,775.7 L1614.5,780.2 L1613.9,784.7 L1613.4,789.2 L1612.8,793.7 L1612.2,798.2 L1611.6,802.7 L1611.0,807.2 L1610.4,811.7 L1609.8,816.2 L1609.2,820.7 L1608.6,825.2 L1608.0,829.7 L1607.3,834.2 L1606.7,838.7 L1606.1,843.2 L1605.4,847.7 L1604.8,852.2 L1604.1,856.7 L1603.5,861.2 L1602.9,865.7 L1602.2,870.2 L1601.5,874.7 L1600.9,879.2 L1600.2,883.7 L1599.6,888.2 L1598.9,892.7 L1598.3,897.2 L1597.6,901.7 L1596.9,906.2 L1596.3,910.7 L1595.6,915.2 L1594.9,919.7 L1594.3,924.2 L1593.6,928.7 L1592.9,933.2 L1592.3,937.7 L1591.6,942.2 L1591.0,946.7 L1590.3,951.2 L1589.6,955.7 L1589.0,960.2 L1588.3,964.7 L1587.6,969.2 L1587.0,973.7 L1586.3,978.2 L1585.6,982.7 L1585.0,987.2 L1584.3,991.7 L1583.6,996.2 L1583.0,1000.7 L1582.3,1005.2 L1581.6,1009.7 L1581.0,1014.2 L1580.3,1018.7 L1579.6,1023.2 L1579.0,1027.8 L1578.3,1032.3 L1577.7,1036.8 L1577.0,1041.3 L1576.3,1045.8 L1575.7,1050.3 L1575.0,1054.8 L1574.4,1059.3 L1573.7,1063.8 L1573.1,1068.3 L1572.4,1072.8 L1571.8,1077.3 L1571.1,1081.8 L1570.5,1086.3 L1569.8,1090.9 L1569.2,1095.4 L1568.5,1099.9 L1567.9,1104.4 L1567.2,1108.9 L1566.6,1113.4 L1566.0,1117.9 L1565.3,1122.4 L1564.7,1126.9 L1564.1,1131.5 L1563.4,1136.0 L1562.8,1140.5 L1562.2,1145.0 L1561.6,1149.5 L1560.9,1154.0 L1560.3,1158.5 L1559.7,1163.0 L1559.1,1167.6 L1558.5,1172.1 L1557.9,1176.6 L1557.2,1181.1 L1556.6,1185.6 L1556.0,1190.1 L1555.4,1194.6 L1554.8,1199.2 L1554.2,1203.7 L1553.7,1208.2 L1553.1,1212.7 L1552.5,1217.2 L1551.9,1221.7 L1551.3,1226.3 L1550.7,1230.8 L1550.2,1235.3 L1549.6,1239.8 L1549.0,1244.3 L1548.5,1248.9 L1547.9,1253.4 L1547.3,1257.9 L1546.8,1262.4 L1546.2,1266.9 L1545.7,1271.5 L1545.1,1276.0 L1544.6,1280.5 L1544.1,1285.0 L1543.5,1289.5 L1543.0,1294.1 L1542.5,1298.6 L1542.0,1303.1 L1541.4,1307.6 L1540.9,1312.2 L1540.4,1316.7 L1539.9,1321.2 L1539.4,1325.7 L1538.9,1330.2 L1538.4,1334.8 L1537.9,1339.3 L1537.4,1343.8 L1537.0,1348.4 L1536.5,1352.9 L1536.0,1357.4 L1535.5,1361.9 L1535.1,1366.5 L1534.6,1371.0 L1534.2,1375.5 L1533.7,1380.0 L1533.3,1384.6 L1532.8,1389.1 L1532.4,1393.6 L1532.0,1398.2 L1531.6,1402.7 L1531.1,1407.2 L1530.7,1411.7 L1530.3,1416.3 L1529.9,1420.8 L1529.5,1425.3 L1529.1,1429.9 L1528.7,1434.4 L1528.4,1438.9 L1528.0,1443.5 L1527.6,1448.0" stroke="#FF00FF"/>
<path d="M877.4,1448.0 L879.8,1444.3 L882.2,1440.6 L884.7,1437.0 L887.1,1433.3 L889.6,1429.7 L892.0,1426.0 L894.5,1422.4 L896.9,1418.7 L899.4,1415.1 L901.9,1411.4 L904.4,1407.8 L906.8,1404.2 L909.3,1400.5 L911.8,1396.9 L914.3,1393.3 L916.8,1389.7 L919.3,1386.1 L921.8,1382.4 L924.3,1378.8 L926.9,1375.2 L929.4,1371.6 L931.9,1368.0 L934.4,1364.4 L937.0,1360.8 L939.5,1357.2 L942.0,1353.6 L944.6,1350.0 L947.1,1346.5 L949.7,1342.9 L952.2,1339.3 L954.8,1335.7 L957.3,1332.1 L959.9,1328.5 L962.4,1325.0 L965.0,1321.4 L967.5,1317.8 L970.1,1314.2 L972.6,1310.6 L975.2,1307.1 L977.8,1303.5 L980.3,1299.9 L982.9,1296.3 L985.4,1292.8 L988.0,1289.2 L990.6,1285.6 L993.1,1282.0 L995.7,1278.4 L998.2,1274.9 L1000.8,1271.3 L1003.4,1267.7 L1005.9,1264.1 L1008.5,1260.5 L1011.0,1257.0 L1013.6,1253.4 L1016.1,1249.8 L1018.7,1246.2 L1021.2,1242.6 L1023.7,1239.0 L1026.3,1235.4 L1028.8,1231.8 L1031.4,1228.2 L1033.9,1224.6 L1036.4,1221.0 L1038.9,1217.4 L1041.5,1213.8 L1044.0,1210.2 L1046.5,1206.6 L1049.0,1203.0 L1051.5,1199.4 L1054.0,1195.8 L1056.5,1192.2 L1059.0,1188.5 L1061.5,1184.9 L1064.0,1181.3 L1066.5,1177.7 L1069.0,1174.1 L1071.5,1170.4 L1074.0,1166.8 L1076.5,1163.2 L1079.0,1159.5 L1081.5,1155.9 L1084.0,1152.3 L1086.5,1148.6 L1088.9,1145.0 L1091.4,1141.4 L1093.9,1137.7 L1096.4,1134.1 L1098.9,1130.5 L1101.3,1126.8 L1103.8,1123.2 L1106.3,1119.6 L1108.8,1115.9 L1111.3,1112.3 L1113.7,1108.7 L1116.2,1105.0 L1118.7,1101.4 L1121.2,1097.7 L1123.6,1094.1 L1126.1,1090.5 L1128.6,1086.8 L1131.1,1083.2 L1133.6,1079.6 L1136.0,1075.9 L1138.5,1072.3 L1141.0,1068.7 L1143.5,1065.0 L1146.0,1061.4 L1148.4,1057.8 L1150.9,1054.1 L1153.4,1050.5 L1155.9,1046.9 L1158.4,1043.2 L1160.9,1039.6 L1163.4,1036.0 L1165.9,1032.4 L1168.4,1028.8 L1170.9,1025.1 L1173.4,1021.5 L1175.9,1017.9 L1178.4,1014.3 L1180.9,1010.7 L1183.4,1007.1 L1185.9,1003.5 L1188.4,999.8 L1190.9,996.2 L1193.5,992.6 L1196.0,989.0 L1198.5,985.4 L1201.0,981.8 L1203.5,978.2 L1206.1,974.6 L1208.6,971.0 L1211.1,967.4 L1213.7,963.9 L1216.2,960.3 L1218.7,956.7 L1221.3,953.1 L1223.8,949.5 L1226.4,945.9 L1228.9,942.3 L1231.5,938.7 L1234.0,935.2 L1236.6,931.6 L1239.1,928.0 L1241.7,924.4 L1244.2,920.8 L1246.8,917.3 L1249.3,913.7 L1251.9,910.1 L1254.5,906.5 L1257.0,903.0 L1259.6,899.4 L1262.1,895.8 L1264.7,892.3 L1267.3,888.7 L1269.8,885.1 L1272.4,881.5 L1275.0,878.0 L1277.5,874.4 L1280.1,870.8 L1282.7,867.3 L1285.3,863.7 L1287.8,860.1 L1290.4,856.6 L1293.0,853.0 L1295.6,849.4 L1298.1,845.9 L1300.7,842.3 L1303.3,838.7 L1305.9,835.2 L1308.4,831.6 L1311.0,828.0 L1313.6,824.5 L1316.2,820.9 L1318.8,817.3 L1321.3,813.8 L1323.9,810.2 L1326.5,806.6 L1329.1,803.1 L1331.7,799.5 L1334.2,795.9 L1336.8,792.4 L1339.4,788.8 L1342.0,785.2 L1344.6,781.7 L1347.1,778.1 L1349.7,774.5 L1352.3,771.0 L1354.9,767.4 L1357.5,763.8 L1360.1,760.3 L1362.7,756.7 L1365.3,753.1 L1367.9,749.6 L1370.5,746.0 L1373.1,742.5 L1375.7,738.9 L1378.3,735.4 L1380.9,731.8 L1383.5,728.3 L1386.1,724.8 L1388.8,721.2 L1391.4,717.7 L1394.0,714.2 L1396.7,710.6 L1399.3,707.1 L1402.0,703.6 L1404.6,700.1 L1407.3,696.6 L1409.9,693.1 L1412.6,689.6 L1415.3,686.1 L1418.0,682.6 L1420.6,679.1 L1423.3,675.6 L1426.0,672.2 L1428.7,668.7 L1431.5,665.2 L1434.2,661.8 L1436.9,658.3 L1439.6,654.9 L1442.4,651.4 L1445.1,648.0 L1447.9,644.6 L1450.7,641.2 L1453.4,637.8 L1456.2,634.4 L1459.0,631.0 L1461.8,627.6 L1464.6,624.2 L1467.4,620.9 L1470.3,617.5 L1473.1,614.1 L1475.9,610.8 L1478.8,607.5 L1481.7,604.1 L1484.5,600.8 L1487.4,597.5 L1490.3,594.2 L1493.2,590.9 L1496.2,587.7 L1499.1,584.4 L1502.1,581.2 L1505.1,578.0 L1508.1,574.8 L1511.1,571.6 L1514.2,568.5 L1517.3,565.4 L1520.4,562.3 L1523.6,559.3 L1526.8,556.2 L1530.0,553.3 L1533.3,550.3 L1536.6,547.5 L1539.9,544.6 L1543.3,541.8 L1546.8,539.1 L1550.3,536.4 L1553.8,533.7 L1557.4,531.1 L1561.1,528.6 L1564.8,526.1 L1568.5,523.8 L1572.4,521.5 L1576.2,519.3 L1580.2,517.3 L1584.2,515.4 L1588.2,513.6 L1592.3,512.0 L1596.5,510.6 L1600.7,509.4 L1605.0,508.4 L1609.3,507.6 L1613.7,507.1 L1618.1,506.8 L1622.6,506.7 L1627.0,507.0 L1631.3,507.5 L1635.6,508.4 L1639.8,509.6 L1643.9,511.2 L1647.9,513.1 L1651.7,515.3 L1655.3,517.8 L1658.8,520.5 L1662.1,523.5 L1665.2,526.6 L1668.1,529.9 L1670.8,533.3 L1673.2,536.9 L1675.4,540.5 L1677.4,544.2 L1679.3,548.1 L1680.9,552.0 L1682.4,556.0 L1683.7,560.0 L1684.9,564.1 L1685.9,568.3 L1686.8,572.6 L1687.6,576.9 L1688.2,581.2 L1688.8,585.6 L1689.3,590.0 L1689.7,594.5 L1690.0,598.9 L1690.3,603.4 L1690.5,607.9 L1690.7,612.3 L1690.9,616.8 L1691.1,621.3 L1691.2,625.8 L1691.3,630.2 L1691.4,634.7 L1691.5,639.2 L1691.5,643.6 L1691.5,648.1 L1691.6,652.5 L1691.5,657.0 L1691.5,661.4 L1691.5,665.8 L1691.4,670.3 L1691.3,674.7 L1691.2,679.1 L1691.1,683.5 L1690.9,688.0 L1690.8,692.4 L1690.6,696.8 L1690.4,701.2 L1690.2,705.6 L1690.0,710.0 L1689.7,714.4 L1689.5,718.8 L1689.2,723.2 L1688.9,727.6 L1688.6,732.0 L1688.3,736.4 L1688.0,740.7 L1687.7,745.1 L1687.3,749.5 L1687.0,753.9 L1686.6,758.3 L1686.2,762.6 L1685.8,767.0 L1685.4,771.4 L1685.0,775.7 L1684.6,780.1 L1684.1,784.5 L1683.7,788.8 L1683.2,793.2 L1682.8,797.6 L1682.3,801.9 L1681.8,806.3 L1681.3,810.6 L1680.8,815.0 L1680.3,819.4 L1679.8,823.7 L1679.3,828.1 L1678.7,832.4 L1678.2,836.8 L1677.7,841.1 L1677.1,845.5 L1676.6,849.8 L1676.0,854.2 L1675.5,858.5 L1674.9,862.9 L1674.3,867.2 L1673.8,871.6 L1673.2,875.9 L1672.6,880.3 L1672.1,884.6 L1671.5,889.0 L1670.9,893.3 L1670.3,897.7 L1669.7,902.0 L1669.2,906.4 L1668.6,910.7 L1668.0,915.1 L1667.4,919.4 L1666.8,923.8 L1666.2,928.1 L1665.6,932.5 L1665.1,936.8 L1664.5,941.2 L1663.9,945.5 L1663.3,949.9 L1662.7,954.2 L1662.1,958.6 L1661.5,963.0 L1660.9,967.3 L1660.4,971.7 L1659.8,976.0 L1659.2,980.4 L1658.6,984.7 L1658.0,989.1 L1657.4,993.5 L1656.8,997.8 L1656.2,1002.2 L1655.6,1006.5 L1655.1,1010.9 L1654.5,1015.3 L1653.9,1019.6 L1653.3,1024.0 L1652.7,1028.3 L1652.1,1032.7 L1651.5,1037.1 L1650.9,1041.4 L1650.4,1045.8 L1649.8,1050.2 L1649.2,1054.5 L1648.6,1058.9 L1648.0,1063.2 L1647.4,1067.6 L1646.9,1072.0 L1646.3,1076.3 L1645.7,1080.7 L1645.1,1085.1 L1644.5,1089.4 L1644.0,1093.8 L1643.4,1098.2 L1642.8,1102.5 L1642.2,1106.9 L1641.7,1111.3 L1641.1,1115.6 L1640.5,1120.0 L1640.0,1124.4 L1639.4,1128.7 L1638.8,1133.1 L1638.3,1137.5 L1637.7,1141.8 L1637.1,1146.2 L1636.6,1150.6 L1636.0,1155.0 L1635.5,1159.3 L1634.9,1163.7 L1634.3,1168.1 L1633.8,1172.4 L1633.2,1176.8 L1632.7,1181.2 L1632.1,1185.5 L1631.6,1189.9 L1631.1,1194.3 L1630.5,1198.7 L1630.0,1203.0 L1629.4,1207.4 L1628.9,1211.8 L1628.4,1216.2 L1627.9,1220.5 L1627.3,1224.9 L1626.8,1229.3 L1626.3,1233.6 L1625.8,1238.0 L1625.2,1242.4 L1624.7,1246.8 L1624.2,1251.1 L1623.7,1255.5 L1623.2,1259.9 L1622.7,1264.3 L1622.2,1268.6 L1621.7,1273.0 L1621.2,1277.4 L1620.7,1281.8 L1620.2,1286.1 L1619.7,1290.5 L1619.2,1294.9 L1618.7,1299.2 L1618.3,1303.6 L1617.8,1308.0 L1617.3,1312.4 L1616.8,1316.7 L1616.4,1321.1 L1615.9,1325.5 L1615.5,1329.9 L1615.0,1334.2 L1614.5,1338.6 L1614.1,1343.0 L1613.6,1347.4 L1613.2,1351.7 L1612.8,1356.1 L1612.3,1360.5 L1611.9,1364.9 L1611.5,1369.2 L1611.0,1373.6 L1610.6,1378.0 L1610.2,1382.4 L1609.8,1386.7 L1609.4,1391.1 L1609.0,1395.5 L1608.6,1399.9 L1608.2,1404.2 L1607.8,1408.6 L1607.4,1413.0 L1607.0,1417.4 L1606.6,1421.7 L1606.2,1426.1 L1605.9,1430.5 L1605.5,1434.9 L1605.1,1439.2 L1604.8,1443.6 L1604.4,1448.0" stroke="#000080"/>
<path d="M952.5,1448.0 L954.9,1444.5 L957.4,1441.1 L959.8,1437.6 L962.3,1434.1 L964.7,1430.7 L967.2,1427.2 L969.6,1423.7 L972.0,1420.2 L974.5,1416.8 L976.9,1413.3 L979.4,1409.8 L981.8,1406.4 L984.3,1402.9 L986.7,1399.4 L989.1,1396.0 L991.6,1392.5 L994.0,1389.0 L996.5,1385.5 L998.9,1382.1 L1001.3,1378.6 L1003.8,1375.1 L1006.2,1371.7 L1008.7,1368.2 L1011.1,1364.7 L1013.5,1361.2 L1016.0,1357.8 L1018.4,1354.3 L1020.9,1350.8 L1023.3,1347.4 L1025.7,1343.9 L1028.2,1340.4 L1030.6,1336.9 L1033.1,1333.5 L1035.5,1330.0 L1037.9,1326.5 L1040.4,1323.0 L1042.8,1319.6 L1045.3,1316.1 L1047.7,1312.6 L1050.1,1309.2 L1052.6,1305.7 L1055.0,1302.2 L1057.5,1298.7 L1059.9,1295.3 L1062.3,1291.8 L1064.8,1288.3 L1067.2,1284.8 L1069.7,1281.4 L1072.1,1277.9 L1074.5,1274.4 L1077.0,1270.9 L1079.4,1267.5 L1081.8,1264.0 L1084.3,1260.5 L1086.7,1257.0 L1089.2,1253.6 L1091.6,1250.1 L1094.0,1246.6 L1096.5,1243.2 L1098.9,1239.7 L1101.3,1236.2 L1103.8,1232.7 L1106.2,1229.3 L1108.7,1225.8 L1111.1,1222.3 L1113.5,1218.8 L1116.0,1215.4 L1118.4,1211.9 L1120.9,1208.4 L1123.3,1204.9 L1125.7,1201.5 L1128.2,1198.0 L1130.6,1194.5 L1133.1,1191.0 L1135.5,1187.6 L1137.9,1184.1 L1140.4,1180.6 L1142.8,1177.2 L1145.2,1173.7 L1147.7,1170.2 L1150.1,1166.7 L1152.6,1163.3 L1155.0,1159.8 L1157.4,1156.3 L1159.9,1152.8 L1162.3,1149.4 L1164.8,1145.9 L1167.2,1142.4 L1169.6,1139.0 L1172.1,1135.5 L1174.5,1132.0 L1177.0,1128.5 L1179.4,1125.1 L1181.9,1121.6 L1184.3,1118.1 L1186.7,1114.7 L1189.2,1111.2 L1191.6,1107.7 L1194.1,1104.2 L1196.5,1100.8 L1198.9,1097.3 L1201.4,1093.8 L1203.8,1090.4 L1206.3,1086.9 L1208.7,1083.4 L1211.2,1079.9 L1213.6,1076.5 L1216.1,1073.0 L1218.5,1069.5 L1220.9,1066.1 L1223.4,1062.6 L1225.8,1059.1 L1228.3,1055.7 L1230.7,1052.2 L1233.2,1048.7 L1235.6,1045.3 L1238.1,1041.8 L1240.5,1038.3 L1243.0,1034.9 L1245.4,1031.4 L1247.8,1027.9 L1250.3,1024.5 L1252.7,1021.0 L1255.2,1017.5 L1257.6,1014.1 L1260.1,1010.6 L1262.5,1007.1 L1265.0,1003.7 L1267.4,1000.2 L1269.9,996.7 L1272.3,993.3 L1274.8,989.8 L1277.2,986.3 L1279.7,982.9 L1282.2,979.4 L1284.6,976.0 L1287.1,972.5 L1289.5,969.0 L1292.0,965.6 L1294.4,962.1 L1296.9,958.7 L1299.4,955.2 L1301.8,951.7 L1304.3,948.3 L1306.7,944.8 L1309.2,941.4 L1311.7,937.9 L1314.1,934.5 L1316.6,931.0 L1319.1,927.6 L1321.5,924.1 L1324.0,920.7 L1326.5,917.2 L1329.0,913.8 L1331.4,910.3 L1333.9,906.9 L1336.4,903.4 L1338.9,900.0 L1341.3,896.5 L1343.8,893.1 L1346.3,889.6 L1348.8,886.2 L1351.3,882.7 L1353.8,879.3 L1356.2,875.9 L1358.7,872.4 L1361.2,869.0 L1363.7,865.6 L1366.2,862.1 L1368.7,858.7 L1371.2,855.3 L1373.7,851.8 L1376.2,848.4 L1378.7,845.0 L1381.2,841.5 L1383.7,838.1 L1386.2,834.7 L1388.7,831.3 L1391.2,827.8 L1393.7,824.4 L1396.3,821.0 L1398.8,817.6 L1401.3,814.2 L1403.8,810.7 L1406.3,807.3 L1408.9,803.9 L1411.4,800.5 L1413.9,797.1 L1416.5,793.7 L1419.0,790.3 L1421.6,786.9 L1424.1,783.5 L1426.7,780.1 L1429.2,776.7 L1431.8,773.3 L1434.3,770.0 L1436.9,766.6 L1439.5,763.2 L1442.0,759.8 L1444.6,756.5 L1447.2,753.1 L1449.8,749.7 L1452.4,746.4 L1455.0,743.0 L1457.6,739.7 L1460.2,736.3 L1462.8,733.0 L1465.4,729.7 L1468.1,726.3 L1470.7,723.0 L1473.3,719.7 L1476.0,716.4 L1478.6,713.0 L1481.3,709.7 L1484.0,706.4 L1486.6,703.1 L1489.3,699.9 L1492.0,696.6 L1494.7,693.3 L1497.4,690.0 L1500.1,686.8 L1502.8,683.5 L1505.5,680.2 L1508.2,677.0 L1511.0,673.8 L1513.7,670.5 L1516.5,667.3 L1519.2,664.1 L1522.0,660.9 L1524.8,657.6 L1527.5,654.4 L1530.3,651.2 L1533.1,648.1 L1535.9,644.9 L1538.8,641.7 L1541.6,638.5 L1544.4,635.4 L1547.3,632.2 L1550.1,629.1 L1553.0,626.0 L1555.9,622.9 L1558.8,619.8 L1561.7,616.7 L1564.6,613.6 L1567.6,610.5 L1570.5,607.5 L1573.5,604.4 L1576.5,601.4 L1579.5,598.4 L1582.6,595.4 L1585.7,592.4 L1588.7,589.5 L1591.9,586.6 L1595.0,583.7 L1598.2,580.9 L1601.4,578.2 L1604.7,575.5 L1608.0,572.8 L1611.4,570.3 L1614.8,567.8 L1618.2,565.4 L1621.8,563.1 L1625.3,560.9 L1629.0,558.8 L1632.6,556.8 L1636.4,555.0 L1640.2,553.2 L1644.1,551.6 L1648.1,550.2 L1652.1,548.9 L1656.2,547.7 L1660.4,546.7 L1664.7,545.8 L1669.0,545.1 L1673.4,544.7 L1677.8,544.4 L1682.3,544.3 L1686.6,544.5 L1691.0,544.9 L1695.2,545.6 L1699.3,546.6 L1703.3,547.9 L1707.2,549.5 L1710.8,551.3 L1714.3,553.5 L1717.6,555.9 L1720.7,558.6 L1723.6,561.5 L1726.3,564.7 L1728.8,568.0 L1731.1,571.5 L1733.2,575.1 L1735.1,578.9 L1736.9,582.8 L1738.4,586.9 L1739.9,591.0 L1741.2,595.1 L1742.3,599.3 L1743.4,603.6 L1744.3,607.8 L1745.2,612.1 L1745.9,616.3 L1746.6,620.5 L1747.2,624.8 L1747.7,629.0 L1748.1,633.2 L1748.5,637.4 L1748.9,641.7 L1749.2,645.9 L1749.5,650.1 L1749.7,654.3 L1749.9,658.6 L1750.1,662.8 L1750.3,667.0 L1750.5,671.2 L1750.6,675.5 L1750.7,679.7 L1750.8,683.9 L1750.9,688.1 L1751.0,692.4 L1751.0,696.6 L1751.0,700.8 L1751.1,705.0 L1751.0,709.3 L1751.0,713.5 L1751.0,717.7 L1750.9,722.0 L1750.9,726.2 L1750.8,730.4 L1750.7,734.6 L1750.5,738.9 L1750.4,743.1 L1750.3,747.3 L1750.1,751.6 L1749.9,755.8 L1749.7,760.0 L1749.5,764.3 L1749.3,768.5 L1749.1,772.7 L1748.9,776.9 L1748.6,781.2 L1748.3,785.4 L1748.1,789.6 L1747.8,793.9 L1747.5,798.1 L1747.2,802.3 L1746.8,806.6 L1746.5,810.8 L1746.2,815.0 L1745.8,819.3 L1745.5,823.5 L1745.1,827.7 L1744.7,831.9 L1744.3,836.2 L1743.9,840.4 L1743.5,844.6 L1743.1,848.9 L1742.7,853.1 L1742.3,857.3 L1741.9,861.6 L1741.4,865.8 L1741.0,870.0 L1740.5,874.2 L1740.1,878.5 L1739.6,882.7 L1739.1,886.9 L1738.7,891.1 L1738.2,895.4 L1737.7,899.6 L1737.2,903.8 L1736.7,908.1 L1736.3,912.3 L1735.8,916.5 L1735.3,920.7 L1734.8,924.9 L1734.3,929.2 L1733.8,933.4 L1733.3,937.6 L1732.8,941.8 L1732.3,946.1 L1731.8,950.3 L1731.2,954.5 L1730.7,958.7 L1730.2,962.9 L1729.7,967.2 L1729.2,971.4 L1728.7,975.6 L1728.2,979.8 L1727.7,984.0 L1727.1,988.2 L1726.6,992.5 L1726.1,996.7 L1725.6,1000.9 L1725.1,1005.1 L1724.5,1009.3 L1724.0,1013.5 L1723.5,1017.7 L1723.0,1022.0 L1722.4,1026.2 L1721.9,1030.4 L1721.4,1034.6 L1720.9,1038.8 L1720.3,1043.0 L1719.8,1047.2 L1719.3,1051.4 L1718.8,1055.7 L1718.2,1059.9 L1717.7,1064.1 L1717.2,1068.3 L1716.7,1072.5 L1716.1,1076.7 L1715.6,1080.9 L1715.1,1085.1 L1714.6,1089.3 L1714.1,1093.6 L1713.5,1097.8 L1713.0,1102.0 L1712.5,1106.2 L1712.0,1110.4 L1711.4,1114.6 L1710.9,1118.8 L1710.4,1123.0 L1709.9,1127.2 L1709.4,1131.4 L1708.9,1135.7 L1708.3,1139.9 L1707.8,1144.1 L1707.3,1148.3 L1706.8,1152.5 L1706.3,1156.7 L1705.8,1160.9 L1705.3,1165.1 L1704.8,1169.3 L1704.3,1173.5 L1703.8,1177.7 L1703.3,1182.0 L1702.8,1186.2 L1702.3,1190.4 L1701.8,1194.6 L1701.3,1198.8 L1700.8,1203.0 L1700.3,1207.2 L1699.8,1211.4 L1699.3,1215.7 L1698.8,1219.9 L1698.3,1224.1 L1697.9,1228.3 L1697.4,1232.5 L1696.9,1236.7 L1696.4,1240.9 L1696.0,1245.1 L1695.5,1249.4 L1695.0,1253.6 L1694.6,1257.8 L1694.1,1262.0 L1693.6,1266.2 L1693.2,1270.4 L1692.7,1274.6 L1692.3,1278.9 L1691.8,1283.1 L1691.4,1287.3 L1690.9,1291.5 L1690.5,1295.7 L1690.1,1300.0 L1689.6,1304.2 L1689.2,1308.4 L1688.8,1312.6 L1688.3,1316.8 L1687.9,1321.1 L1687.5,1325.3 L1687.1,1329.5 L1686.7,1333.7 L1686.3,1338.0 L1685.9,1342.2 L1685.5,1346.4 L1685.1,1350.6 L1684.7,1354.9 L1684.3,1359.1 L1683.9,1363.3 L1683.5,1367.5 L1683.1,1371.8 L1682.8,1376.0 L1682.4,1380.2 L1682.0,1384.5 L1681.7,1388.7 L1681.3,1392.9 L1681.0,1397.1 L1680.6,1401.4 L1680.3,1405.6 L1679.9,1409.8 L1679.6,1414.1 L1679.3,1418.3 L1679.0,1422.6 L1678.6,1426.8 L1678.3,1431.0 L1678.0,1435.3 L1677.7,1439.5 L1677.4,1443.8 L1677.1,1448.0" stroke="#008000"/>
<path d="M1024.8,1448.0 L1027.1,1444.7 L1029.5,1441.3 L1031.8,1438.0 L1034.1,1434.6 L1036.4,1431.3 L1038.8,1427.9 L1041.1,1424.6 L1043.5,1421.3 L1045.8,1417.9 L1048.1,1414.6 L1050.5,1411.2 L1052.8,1407.9 L1055.2,1404.6 L1057.5,1401.2 L1059.9,1397.9 L1062.2,1394.5 L1064.5,1391.2 L1066.9,1387.9 L1069.2,1384.5 L1071.6,1381.2 L1073.9,1377.8 L1076.3,1374.5 L1078.7,1371.2 L1081.0,1367.8 L1083.4,1364.5 L1085.7,1361.2 L1088.1,1357.8 L1090.4,1354.5 L1092.8,1351.1 L1095.2,1347.8 L1097.5,1344.5 L1099.9,1341.1 L1102.3,1337.8 L1104.6,1334.5 L1107.0,1331.1 L1109.4,1327.8 L1111.7,1324.5 L1114.1,1321.1 L1116.5,1317.8 L1118.8,1314.4 L1121.2,1311.1 L1123.6,1307.8 L1125.9,1304.4 L1128.3,1301.1 L1130.7,1297.8 L1133.1,1294.4 L1135.4,1291.1 L1137.8,1287.8 L1140.2,1284.4 L1142.6,1281.1 L1144.9,1277.8 L1147.3,1274.4 L1149.7,1271.1 L1152.1,1267.8 L1154.4,1264.4 L1156.8,1261.1 L1159.2,1257.8 L1161.6,1254.4 L1164.0,1251.1 L1166.3,1247.8 L1168.7,1244.4 L1171.1,1241.1 L1173.5,1237.8 L1175.9,1234.4 L1178.2,1231.1 L1180.6,1227.8 L1183.0,1224.4 L1185.4,1221.1 L1187.8,1217.8 L1190.2,1214.4 L1192.5,1211.1 L1194.9,1207.8 L1197.3,1204.4 L1199.7,1201.1 L1202.1,1197.8 L1204.4,1194.5 L1206.8,1191.1 L1209.2,1187.8 L1211.6,1184.5 L1214.0,1181.1 L1216.4,1177.8 L1218.7,1174.5 L1221.1,1171.1 L1223.5,1167.8 L1225.9,1164.5 L1228.3,1161.1 L1230.7,1157.8 L1233.0,1154.5 L1235.4,1151.2 L1237.8,1147.8 L1240.2,1144.5 L1242.6,1141.2 L1244.9,1137.8 L1247.3,1134.5 L1249.7,1131.2 L1252.1,1127.8 L1254.5,1124.5 L1256.8,1121.2 L1259.2,1117.9 L1261.6,1114.5 L1264.0,1111.2 L1266.3,1107.9 L1268.7,1104.5 L1271.1,1101.2 L1273.5,1097.9 L1275.9,1094.6 L1278.2,1091.2 L1280.6,1087.9 L1283.0,1084.6 L1285.3,1081.2 L1287.7,1077.9 L1290.1,1074.6 L1292.5,1071.2 L1294.8,1067.9 L1297.2,1064.6 L1299.6,1061.3 L1301.9,1057.9 L1304.3,1054.6 L1306.7,1051.3 L1309.0,1047.9 L1311.4,1044.6 L1313.8,1041.3 L1316.1,1038.0 L1318.5,1034.6 L1320.8,1031.3 L1323.2,1028.0 L1325.6,1024.7 L1327.9,1021.3 L1330.3,1018.0 L1332.7,1014.7 L1335.0,1011.3 L1337.4,1008.0 L1339.7,1004.7 L1342.1,1001.4 L1344.5,998.0 L1346.8,994.7 L1349.2,991.4 L1351.5,988.1 L1353.9,984.7 L1356.3,981.4 L1358.6,978.1 L1361.0,974.8 L1363.4,971.5 L1365.7,968.1 L1368.1,964.8 L1370.5,961.5 L1372.8,958.2 L1375.2,954.9 L1377.6,951.6 L1379.9,948.2 L1382.3,944.9 L1384.7,941.6 L1387.1,938.3 L1389.4,935.0 L1391.8,931.7 L1394.2,928.4 L1396.6,925.1 L1399.0,921.8 L1401.3,918.5 L1403.7,915.2 L1406.1,911.9 L1408.5,908.6 L1410.9,905.3 L1413.3,902.0 L1415.7,898.7 L1418.1,895.4 L1420.5,892.1 L1422.9,888.8 L1425.3,885.5 L1427.7,882.2 L1430.1,878.9 L1432.5,875.7 L1435.0,872.4 L1437.4,869.1 L1439.8,865.8 L1442.2,862.5 L1444.7,859.3 L1447.1,856.0 L1449.5,852.7 L1452.0,849.4 L1454.4,846.2 L1456.9,842.9 L1459.3,839.6 L1461.8,836.4 L1464.2,833.1 L1466.7,829.9 L1469.1,826.6 L1471.6,823.3 L1474.1,820.1 L1476.5,816.8 L1479.0,813.6 L1481.5,810.4 L1484.0,807.1 L1486.5,803.9 L1489.0,800.6 L1491.5,797.4 L1494.0,794.2 L1496.5,790.9 L1499.0,787.7 L1501.5,784.5 L1504.0,781.3 L1506.6,778.0 L1509.1,774.8 L1511.6,771.6 L1514.2,768.4 L1516.7,765.2 L1519.3,762.0 L1521.8,758.8 L1524.4,755.6 L1527.0,752.4 L1529.5,749.2 L1532.1,746.0 L1534.7,742.8 L1537.3,739.6 L1539.9,736.4 L1542.5,733.2 L1545.1,730.1 L1547.7,726.9 L1550.3,723.7 L1552.9,720.5 L1555.6,717.4 L1558.2,714.2 L1560.9,711.0 L1563.5,707.9 L1566.2,704.7 L1568.8,701.6 L1571.5,698.4 L1574.2,695.3 L1576.8,692.2 L1579.5,689.0 L1582.2,685.9 L1584.9,682.8 L1587.6,679.6 L1590.3,676.5 L1593.1,673.4 L1595.8,670.3 L1598.5,667.2 L1601.3,664.1 L1604.0,661.0 L1606.8,657.9 L1609.6,654.9 L1612.4,651.8 L1615.2,648.8 L1618.0,645.8 L1620.9,642.8 L1623.8,639.9 L1626.7,637.0 L1629.6,634.2 L1632.5,631.4 L1635.5,628.6 L1638.5,625.9 L1641.6,623.2 L1644.6,620.6 L1647.8,618.0 L1650.9,615.5 L1654.1,613.1 L1657.3,610.7 L1660.6,608.4 L1663.9,606.2 L1667.3,604.1 L1670.7,602.0 L1674.1,600.0 L1677.6,598.1 L1681.2,596.3 L1684.8,594.6 L1688.4,593.0 L1692.1,591.5 L1695.9,590.0 L1699.7,588.7 L1703.6,587.5 L1707.6,586.4 L1711.6,585.4 L1715.7,584.5 L1719.8,583.8 L1724.0,583.2 L1728.3,582.7 L1732.5,582.4 L1736.7,582.3 L1740.9,582.5 L1745.0,582.9 L1749.1,583.5 L1753.0,584.4 L1756.8,585.7 L1760.5,587.2 L1764.0,589.1 L1767.3,591.3 L1770.5,593.7 L1773.5,596.4 L1776.4,599.3 L1779.1,602.3 L1781.6,605.5 L1784.0,608.9 L1786.3,612.3 L1788.3,615.7 L1790.2,619.3 L1792.0,622.9 L1793.7,626.6 L1795.2,630.3 L1796.6,634.0 L1797.8,637.9 L1799.0,641.7 L1800.0,645.6 L1801.0,649.6 L1801.8,653.6 L1802.6,657.6 L1803.3,661.6 L1803.9,665.7 L1804.4,669.8 L1804.9,673.9 L1805.3,678.1 L1805.7,682.2 L1806.0,686.3 L1806.3,690.5 L1806.6,694.7 L1806.8,698.8 L1807.0,703.0 L1807.2,707.1 L1807.4,711.3 L1807.6,715.4 L1807.7,719.5 L1807.8,723.7 L1807.9,727.8 L1808.0,731.9 L1808.1,736.1 L1808.2,740.2 L1808.2,744.3 L1808.2,748.4 L1808.2,752.5 L1808.2,756.6 L1808.2,760.7 L1808.2,764.8 L1808.1,768.9 L1808.0,773.0 L1807.9,777.1 L1807.8,781.2 L1807.7,785.3 L1807.6,789.4 L1807.5,793.5 L1807.3,797.6 L1807.2,801.7 L1807.0,805.8 L1806.8,809.8 L1806.6,813.9 L1806.4,818.0 L1806.2,822.1 L1805.9,826.1 L1805.7,830.2 L1805.4,834.3 L1805.2,838.3 L1804.9,842.4 L1804.6,846.5 L1804.3,850.5 L1804.0,854.6 L1803.7,858.6 L1803.4,862.7 L1803.1,866.8 L1802.8,870.8 L1802.4,874.9 L1802.1,878.9 L1801.7,883.0 L1801.3,887.0 L1801.0,891.1 L1800.6,895.1 L1800.2,899.2 L1799.8,903.2 L1799.5,907.3 L1799.1,911.3 L1798.7,915.4 L1798.3,919.5 L1797.8,923.5 L1797.4,927.6 L1797.0,931.6 L1796.6,935.7 L1796.2,939.7 L1795.8,943.8 L1795.3,947.8 L1794.9,951.9 L1794.5,955.9 L1794.0,960.0 L1793.6,964.0 L1793.2,968.1 L1792.7,972.1 L1792.3,976.2 L1791.8,980.2 L1791.4,984.3 L1791.0,988.4 L1790.5,992.4 L1790.1,996.5 L1789.6,1000.5 L1789.2,1004.6 L1788.7,1008.6 L1788.3,1012.7 L1787.8,1016.8 L1787.3,1020.8 L1786.9,1024.9 L1786.4,1028.9 L1786.0,1033.0 L1785.5,1037.1 L1785.1,1041.1 L1784.6,1045.2 L1784.1,1049.2 L1783.7,1053.3 L1783.2,1057.4 L1782.8,1061.4 L1782.3,1065.5 L1781.8,1069.6 L1781.4,1073.6 L1780.9,1077.7 L1780.4,1081.7 L1780.0,1085.8 L1779.5,1089.9 L1779.0,1093.9 L1778.6,1098.0 L1778.1,1102.1 L1777.6,1106.1 L1777.2,1110.2 L1776.7,1114.3 L1776.2,1118.3 L1775.8,1122.4 L1775.3,1126.5 L1774.9,1130.5 L1774.4,1134.6 L1773.9,1138.7 L1773.5,1142.7 L1773.0,1146.8 L1772.5,1150.9 L1772.1,1154.9 L1771.6,1159.0 L1771.2,1163.1 L1770.7,1167.1 L1770.3,1171.2 L1769.8,1175.3 L1769.3,1179.4 L1768.9,1183.4 L1768.4,1187.5 L1768.0,1191.6 L1767.5,1195.6 L1767.1,1199.7 L1766.6,1203.8 L1766.2,1207.8 L1765.8,1211.9 L1765.3,1216.0 L1764.9,1220.1 L1764.4,1224.1 L1764.0,1228.2 L1763.6,1232.3 L1763.1,1236.3 L1762.7,1240.4 L1762.3,1244.5 L1761.8,1248.6 L1761.4,1252.6 L1761.0,1256.7 L1760.5,1260.8 L1760.1,1264.8 L1759.7,1268.9 L1759.3,1273.0 L1758.9,1277.0 L1758.5,1281.1 L1758.1,1285.2 L1757.7,1289.3 L1757.2,1293.3 L1756.8,1297.4 L1756.4,1301.5 L1756.1,1305.5 L1755.7,1309.6 L1755.3,1313.7 L1754.9,1317.8 L1754.5,1321.8 L1754.1,1325.9 L1753.7,1330.0 L1753.4,1334.0 L1753.0,1338.1 L1752.6,1342.2 L1752.2,1346.3 L1751.9,1350.3 L1751.5,1354.4 L1751.2,1358.5 L1750.8,1362.5 L1750.5,1366.6 L1750.1,1370.7 L1749.8,1374.8 L1749.4,1378.8 L1749.1,1382.9 L1748.8,1387.0 L1748.4,1391.0 L1748.1,1395.1 L1747.8,1399.2 L1747.5,1403.2 L1747.2,1407.3 L1746.9,1411.4 L1746.6,1415.5 L1746.3,1419.5 L1746.0,1423.6 L1745.7,1427.7 L1745.4,1431.7 L1745.1,1435.8 L1744.8,1439.9 L1744.6,1443.9 L1744.3,1448.0" stroke="#800080"/>
<path d="M1093.4,1448.0 L1095.6,1444.8 L1097.9,1441.6 L1100.2,1438.4 L1102.4,1435.2 L1104.7,1432.0 L1106.9,1428.7 L1109.2,1425.5 L1111.5,1422.3 L1113.7,1419.1 L1116.0,1415.9 L1118.2,1412.7 L1120.5,1409.5 L1122.8,1406.3 L1125.0,1403.1 L1127.3,1399.9 L1129.6,1396.7 L1131.8,1393.5 L1134.1,1390.3 L1136.4,1387.1 L1138.7,1383.9 L1140.9,1380.7 L1143.2,1377.4 L1145.5,1374.2 L1147.8,1371.0 L1150.0,1367.8 L1152.3,1364.6 L1154.6,1361.4 L1156.9,1358.2 L1159.1,1355.0 L1161.4,1351.8 L1163.7,1348.6 L1166.0,1345.4 L1168.3,1342.2 L1170.6,1339.0 L1172.8,1335.8 L1175.1,1332.6 L1177.4,1329.4 L1179.7,1326.2 L1182.0,1323.0 L1184.3,1319.8 L1186.6,1316.6 L1188.8,1313.4 L1191.1,1310.2 L1193.4,1307.0 L1195.7,1303.8 L1198.0,1300.6 L1200.3,1297.4 L1202.6,1294.2 L1204.9,1291.0 L1207.2,1287.8 L1209.5,1284.6 L1211.8,1281.4 L1214.1,1278.2 L1216.3,1275.0 L1218.6,1271.8 L1220.9,1268.6 L1223.2,1265.4 L1225.5,1262.2 L1227.8,1259.0 L1230.1,1255.8 L1232.4,1252.6 L1234.7,1249.4 L1237.0,1246.3 L1239.3,1243.1 L1241.6,1239.9 L1243.9,1236.7 L1246.2,1233.5 L1248.5,1230.3 L1250.8,1227.1 L1253.1,1223.9 L1255.4,1220.7 L1257.7,1217.5 L1260.0,1214.3 L1262.3,1211.1 L1264.6,1207.9 L1266.9,1204.7 L1269.2,1201.5 L1271.5,1198.3 L1273.8,1195.1 L1276.1,1191.9 L1278.4,1188.8 L1280.7,1185.6 L1283.0,1182.4 L1285.3,1179.2 L1287.6,1176.0 L1289.9,1172.8 L1292.2,1169.6 L1294.5,1166.4 L1296.8,1163.2 L1299.1,1160.0 L1301.5,1156.8 L1303.8,1153.6 L1306.1,1150.5 L1308.4,1147.3 L1310.7,1144.1 L1313.0,1140.9 L1315.3,1137.7 L1317.6,1134.5 L1319.9,1131.3 L1322.2,1128.1 L1324.5,1124.9 L1326.8,1121.7 L1329.1,1118.6 L1331.4,1115.4 L1333.7,1112.2 L1336.0,1109.0 L1338.3,1105.8 L1340.6,1102.6 L1342.9,1099.4 L1345.2,1096.2 L1347.5,1093.0 L1349.8,1089.9 L1352.1,1086.7 L1354.4,1083.5 L1356.7,1080.3 L1359.0,1077.1 L1361.3,1073.9 L1363.6,1070.7 L1365.9,1067.5 L1368.2,1064.4 L1370.5,1061.2 L1372.8,1058.0 L1375.1,1054.8 L1377.4,1051.6 L1379.7,1048.4 L1382.0,1045.2 L1384.3,1042.1 L1386.6,1038.9 L1388.9,1035.7 L1391.2,1032.5 L1393.4,1029.3 L1395.7,1026.1 L1398.0,1022.9 L1400.3,1019.8 L1402.6,1016.6 L1404.9,1013.4 L1407.2,1010.2 L1409.5,1007.0 L1411.8,1003.9 L1414.1,1000.7 L1416.4,997.5 L1418.7,994.3 L1421.0,991.2 L1423.3,988.0 L1425.7,984.8 L1428.0,981.6 L1430.3,978.5 L1432.6,975.3 L1434.9,972.1 L1437.2,968.9 L1439.5,965.8 L1441.8,962.6 L1444.1,959.4 L1446.5,956.3 L1448.8,953.1 L1451.1,949.9 L1453.4,946.8 L1455.7,943.6 L1458.1,940.5 L1460.4,937.3 L1462.7,934.2 L1465.0,931.0 L1467.4,927.8 L1469.7,924.7 L1472.1,921.5 L1474.4,918.4 L1476.7,915.2 L1479.1,912.1 L1481.4,909.0 L1483.8,905.8 L1486.1,902.7 L1488.5,899.5 L1490.8,896.4 L1493.2,893.3 L1495.6,890.1 L1497.9,887.0 L1500.3,883.9 L1502.7,880.7 L1505.0,877.6 L1507.4,874.5 L1509.8,871.3 L1512.2,868.2 L1514.5,865.1 L1516.9,862.0 L1519.3,858.9 L1521.7,855.8 L1524.1,852.7 L1526.5,849.5 L1528.9,846.4 L1531.3,843.3 L1533.7,840.2 L1536.2,837.1 L1538.6,834.0 L1541.0,830.9 L1543.4,827.8 L1545.9,824.8 L1548.3,821.7 L1550.7,818.6 L1553.2,815.5 L1555.6,812.4 L1558.1,809.3 L1560.5,806.3 L1563.0,803.2 L1565.5,800.1 L1567.9,797.1 L1570.4,794.0 L1572.9,790.9 L1575.4,787.9 L1577.8,784.8 L1580.3,781.8 L1582.8,778.7 L1585.3,775.7 L1587.8,772.6 L1590.4,769.6 L1592.9,766.5 L1595.4,763.5 L1597.9,760.5 L1600.5,757.5 L1603.0,754.4 L1605.5,751.4 L1608.1,748.4 L1610.6,745.4 L1613.2,742.4 L1615.7,739.3 L1618.3,736.3 L1620.9,733.3 L1623.5,730.3 L1626.1,727.3 L1628.7,724.3 L1631.2,721.4 L1633.9,718.4 L1636.5,715.4 L1639.1,712.4 L1641.7,709.4 L1644.3,706.5 L1647.0,703.5 L1649.6,700.5 L1652.2,697.6 L1654.9,694.6 L1657.6,691.7 L1660.2,688.7 L1662.9,685.8 L1665.6,682.9 L1668.3,680.1 L1671.1,677.2 L1673.8,674.4 L1676.6,671.6 L1679.4,668.9 L1682.3,666.1 L1685.1,663.5 L1688.0,660.9 L1690.9,658.3 L1693.9,655.8 L1696.8,653.3 L1699.9,650.9 L1702.9,648.5 L1706.0,646.3 L1709.1,644.1 L1712.3,641.9 L1715.5,639.9 L1718.8,637.9 L1722.1,636.0 L1725.5,634.2 L1728.9,632.4 L1732.4,630.8 L1735.9,629.3 L1739.5,627.8 L1743.2,626.5 L1746.9,625.3 L1750.6,624.2 L1754.5,623.1 L1758.4,622.3 L1762.3,621.5 L1766.4,620.8 L1770.4,620.3 L1774.6,620.0 L1778.7,619.7 L1782.8,619.7 L1786.9,619.9 L1790.9,620.2 L1794.9,620.7 L1798.8,621.5 L1802.6,622.5 L1806.3,623.7 L1809.9,625.1 L1813.3,626.8 L1816.6,628.8 L1819.8,630.9 L1822.8,633.3 L1825.6,635.9 L1828.3,638.6 L1830.8,641.6 L1833.1,644.7 L1835.3,647.9 L1837.4,651.3 L1839.3,654.7 L1841.0,658.3 L1842.7,661.9 L1844.2,665.5 L1845.6,669.2 L1846.9,672.9 L1848.1,676.7 L1849.2,680.4 L1850.2,684.3 L1851.1,688.1 L1852.0,692.0 L1852.8,695.9 L1853.5,699.8 L1854.1,703.7 L1854.7,707.6 L1855.3,711.6 L1855.8,715.5 L1856.3,719.4 L1856.7,723.4 L1857.1,727.3 L1857.5,731.2 L1857.9,735.2 L1858.2,739.1 L1858.5,743.0 L1858.7,746.9 L1859.0,750.9 L1859.2,754.8 L1859.3,758.7 L1859.5,762.6 L1859.6,766.6 L1859.7,770.5 L1859.8,774.4 L1859.9,778.3 L1859.9,782.2 L1859.9,786.2 L1859.9,790.1 L1859.9,794.0 L1859.9,797.9 L1859.8,801.8 L1859.8,805.8 L1859.7,809.7 L1859.6,813.6 L1859.5,817.5 L1859.4,821.4 L1859.2,825.3 L1859.1,829.3 L1859.0,833.2 L1858.8,837.1 L1858.6,841.0 L1858.5,844.9 L1858.3,848.9 L1858.1,852.8 L1857.9,856.7 L1857.8,860.6 L1857.6,864.6 L1857.4,868.5 L1857.2,872.4 L1857.0,876.3 L1856.8,880.2 L1856.5,884.2 L1856.3,888.1 L1856.1,892.0 L1855.9,896.0 L1855.6,899.9 L1855.4,903.8 L1855.2,907.7 L1854.9,911.7 L1854.7,915.6 L1854.4,919.5 L1854.2,923.4 L1853.9,927.4 L1853.6,931.3 L1853.4,935.2 L1853.1,939.1 L1852.8,943.1 L1852.5,947.0 L1852.2,950.9 L1851.9,954.8 L1851.6,958.8 L1851.3,962.7 L1851.0,966.6 L1850.7,970.5 L1850.3,974.4 L1850.0,978.4 L1849.7,982.3 L1849.3,986.2 L1849.0,990.1 L1848.7,994.0 L1848.3,998.0 L1847.9,1001.9 L1847.6,1005.8 L1847.2,1009.7 L1846.9,1013.6 L1846.5,1017.5 L1846.1,1021.5 L1845.7,1025.4 L1845.4,1029.3 L1845.0,1033.2 L1844.6,1037.1 L1844.2,1041.0 L1843.8,1044.9 L1843.4,1048.8 L1843.0,1052.8 L1842.6,1056.7 L1842.2,1060.6 L1841.8,1064.5 L1841.4,1068.4 L1840.9,1072.3 L1840.5,1076.2 L1840.1,1080.1 L1839.7,1084.0 L1839.3,1088.0 L1838.8,1091.9 L1838.4,1095.8 L1838.0,1099.7 L1837.6,1103.6 L1837.1,1107.5 L1836.7,1111.4 L1836.3,1115.3 L1835.8,1119.2 L1835.4,1123.1 L1835.0,1127.0 L1834.5,1130.9 L1834.1,1134.8 L1833.7,1138.8 L1833.2,1142.7 L1832.8,1146.6 L1832.3,1150.5 L1831.9,1154.4 L1831.5,1158.3 L1831.0,1162.2 L1830.6,1166.1 L1830.1,1170.0 L1829.7,1173.9 L1829.3,1177.8 L1828.8,1181.7 L1828.4,1185.6 L1828.0,1189.5 L1827.5,1193.4 L1827.1,1197.4 L1826.6,1201.3 L1826.2,1205.2 L1825.8,1209.1 L1825.4,1213.0 L1824.9,1216.9 L1824.5,1220.8 L1824.1,1224.7 L1823.6,1228.6 L1823.2,1232.5 L1822.8,1236.4 L1822.4,1240.3 L1822.0,1244.2 L1821.6,1248.2 L1821.2,1252.1 L1820.7,1256.0 L1820.3,1259.9 L1819.9,1263.8 L1819.5,1267.7 L1819.1,1271.6 L1818.7,1275.5 L1818.4,1279.4 L1818.0,1283.3 L1817.6,1287.2 L1817.2,1291.2 L1816.8,1295.1 L1816.5,1299.0 L1816.1,1302.9 L1815.7,1306.8 L1815.4,1310.7 L1815.0,1314.6 L1814.6,1318.5 L1814.3,1322.5 L1814.0,1326.4 L1813.6,1330.3 L1813.3,1334.2 L1812.9,1338.1 L1812.6,1342.0 L1812.3,1346.0 L1812.0,1349.9 L1811.7,1353.8 L1811.4,1357.7 L1811.1,1361.6 L1810.8,1365.5 L1810.5,1369.5 L1810.2,1373.4 L1809.9,1377.3 L1809.6,1381.2 L1809.4,1385.2 L1809.1,1389.1 L1808.9,1393.0 L1808.6,1396.9 L1808.4,1400.9 L1808.1,1404.8 L1807.9,1408.7 L1807.7,1412.6 L1807.5,1416.6 L1807.3,1420.5 L1807.1,1424.4 L1806.9,1428.3 L1806.7,1432.3 L1806.5,1436.2 L1806.3,1440.1 L1806.2,1444.1 L1806.0,1448.0" stroke="#FF8000"/>
<path d="M1157.9,1448.0 L1160.1,1444.9 L1162.2,1441.8 L1164.4,1438.8 L1166.5,1435.7 L1168.7,1432.6 L1170.9,1429.6 L1173.0,1426.5 L1175.2,1423.4 L1177.4,1420.3 L1179.5,1417.3 L1181.7,1414.2 L1183.9,1411.1 L1186.0,1408.0 L1188.2,1405.0 L1190.4,1401.9 L1192.5,1398.8 L1194.7,1395.8 L1196.9,1392.7 L1199.1,1389.6 L1201.2,1386.5 L1203.4,1383.5 L1205.6,1380.4 L1207.8,1377.3 L1209.9,1374.3 L1212.1,1371.2 L1214.3,1368.1 L1216.5,1365.1 L1218.7,1362.0 L1220.8,1358.9 L1223.0,1355.9 L1225.2,1352.8 L1227.4,1349.7 L1229.6,1346.6 L1231.8,1343.6 L1233.9,1340.5 L1236.1,1337.4 L1238.3,1334.4 L1240.5,1331.3 L1242.7,1328.2 L1244.9,1325.2 L1247.1,1322.1 L1249.3,1319.0 L1251.5,1316.0 L1253.6,1312.9 L1255.8,1309.8 L1258.0,1306.8 L1260.2,1303.7 L1262.4,1300.7 L1264.6,1297.6 L1266.8,1294.5 L1269.0,1291.5 L1271.2,1288.4 L1273.4,1285.3 L1275.6,1282.3 L1277.8,1279.2 L1280.0,1276.2 L1282.2,1273.1 L1284.4,1270.0 L1286.6,1267.0 L1288.8,1263.9 L1291.0,1260.9 L1293.2,1257.8 L1295.4,1254.7 L1297.6,1251.7 L1299.8,1248.6 L1302.0,1245.6 L1304.2,1242.5 L1306.4,1239.4 L1308.6,1236.4 L1310.8,1233.3 L1313.0,1230.3 L1315.2,1227.2 L1317.5,1224.2 L1319.7,1221.1 L1321.9,1218.1 L1324.1,1215.0 L1326.3,1212.0 L1328.5,1208.9 L1330.7,1205.8 L1332.9,1202.8 L1335.1,1199.7 L1337.3,1196.7 L1339.5,1193.6 L1341.8,1190.6 L1344.0,1187.5 L1346.2,1184.5 L1348.4,1181.4 L1350.6,1178.4 L1352.8,1175.3 L1355.0,1172.3 L1357.2,1169.3 L1359.5,1166.2 L1361.7,1163.2 L1363.9,1160.1 L1366.1,1157.1 L1368.3,1154.0 L1370.5,1151.0 L1372.8,1147.9 L1375.0,1144.9 L1377.2,1141.8 L1379.4,1138.8 L1381.6,1135.8 L1383.8,1132.7 L1386.1,1129.7 L1388.3,1126.6 L1390.5,1123.6 L1392.7,1120.6 L1394.9,1117.5 L1397.1,1114.5 L1399.4,1111.5 L1401.6,1108.4 L1403.8,1105.4 L1406.0,1102.3 L1408.2,1099.3 L1410.5,1096.3 L1412.7,1093.2 L1414.9,1090.2 L1417.1,1087.2 L1419.3,1084.1 L1421.6,1081.1 L1423.8,1078.1 L1426.0,1075.1 L1428.2,1072.0 L1430.4,1069.0 L1432.7,1066.0 L1434.9,1062.9 L1437.1,1059.9 L1439.3,1056.9 L1441.5,1053.9 L1443.8,1050.8 L1446.0,1047.8 L1448.2,1044.8 L1450.4,1041.8 L1452.7,1038.7 L1454.9,1035.7 L1457.1,1032.7 L1459.3,1029.7 L1461.6,1026.6 L1463.8,1023.6 L1466.0,1020.6 L1468.3,1017.6 L1470.5,1014.6 L1472.7,1011.5 L1475.0,1008.5 L1477.2,1005.5 L1479.4,1002.5 L1481.7,999.5 L1483.9,996.5 L1486.2,993.4 L1488.4,990.4 L1490.6,987.4 L1492.9,984.4 L1495.1,981.4 L1497.4,978.4 L1499.6,975.4 L1501.9,972.3 L1504.2,969.3 L1506.4,966.3 L1508.7,963.3 L1510.9,960.3 L1513.2,957.3 L1515.5,954.3 L1517.8,951.2 L1520.0,948.2 L1522.3,945.2 L1524.6,942.2 L1526.9,939.2 L1529.1,936.2 L1531.4,933.2 L1533.7,930.2 L1536.0,927.2 L1538.3,924.1 L1540.6,921.1 L1542.9,918.1 L1545.2,915.1 L1547.5,912.1 L1549.8,909.1 L1552.2,906.1 L1554.5,903.1 L1556.8,900.1 L1559.1,897.1 L1561.4,894.0 L1563.8,891.0 L1566.1,888.0 L1568.4,885.0 L1570.8,882.0 L1573.1,879.0 L1575.5,876.0 L1577.8,873.0 L1580.2,870.0 L1582.5,867.1 L1584.9,864.1 L1587.3,861.1 L1589.6,858.1 L1592.0,855.2 L1594.3,852.2 L1596.7,849.3 L1599.1,846.3 L1601.5,843.4 L1603.8,840.5 L1606.2,837.6 L1608.6,834.6 L1611.0,831.7 L1613.3,828.9 L1615.7,826.0 L1618.1,823.1 L1620.5,820.3 L1622.9,817.4 L1625.2,814.6 L1627.6,811.8 L1630.0,809.0 L1632.4,806.2 L1634.8,803.4 L1637.2,800.7 L1639.6,797.9 L1642.0,795.1 L1644.4,792.4 L1646.8,789.7 L1649.2,786.9 L1651.6,784.2 L1654.0,781.5 L1656.5,778.8 L1658.9,776.0 L1661.3,773.3 L1663.8,770.6 L1666.3,767.9 L1668.7,765.2 L1671.2,762.4 L1673.7,759.7 L1676.2,757.0 L1678.7,754.2 L1681.2,751.5 L1683.8,748.7 L1686.3,745.9 L1688.9,743.2 L1691.5,740.4 L1694.1,737.6 L1696.7,734.7 L1699.3,731.9 L1701.9,729.1 L1704.6,726.2 L1707.3,723.4 L1710.0,720.5 L1712.7,717.7 L1715.4,714.9 L1718.2,712.1 L1721.0,709.3 L1723.8,706.5 L1726.6,703.8 L1729.5,701.1 L1732.3,698.5 L1735.2,695.9 L1738.2,693.3 L1741.1,690.8 L1744.1,688.4 L1747.2,686.0 L1750.2,683.8 L1753.3,681.5 L1756.4,679.4 L1759.6,677.4 L1762.8,675.4 L1766.0,673.5 L1769.3,671.8 L1772.6,670.1 L1775.9,668.6 L1779.3,667.1 L1782.7,665.8 L1786.2,664.6 L1789.7,663.6 L1793.2,662.7 L1796.8,661.9 L1800.5,661.2 L1804.2,660.7 L1807.9,660.4 L1811.6,660.2 L1815.4,660.1 L1819.2,660.2 L1823.0,660.5 L1826.7,660.9 L1830.5,661.4 L1834.2,662.1 L1837.9,663.0 L1841.6,663.9 L1845.2,665.1 L1848.7,666.3 L1852.2,667.8 L1855.6,669.3 L1858.9,671.0 L1862.1,672.9 L1865.2,674.9 L1868.2,677.1 L1871.1,679.4 L1873.8,681.8 L1876.4,684.4 L1878.9,687.1 L1881.2,690.0 L1883.4,693.0 L1885.4,696.1 L1887.4,699.3 L1889.2,702.6 L1890.9,705.9 L1892.4,709.4 L1893.9,712.9 L1895.2,716.5 L1896.5,720.1 L1897.6,723.8 L1898.7,727.5 L1899.6,731.2 L1900.5,734.9 L1901.3,738.6 L1902.0,742.3 L1902.7,746.1 L1903.2,749.8 L1903.7,753.6 L1904.2,757.4 L1904.6,761.1 L1904.9,764.9 L1905.2,768.7 L1905.4,772.5 L1905.6,776.3 L1905.8,780.1 L1905.9,783.8 L1906.0,787.6 L1906.0,791.4 L1906.1,795.2 L1906.1,799.0 L1906.1,802.8 L1906.1,806.6 L1906.1,810.4 L1906.1,814.1 L1906.1,817.9 L1906.2,821.7 L1906.2,825.4 L1906.2,829.2 L1906.2,832.9 L1906.3,836.7 L1906.3,840.4 L1906.3,844.2 L1906.3,847.9 L1906.3,851.7 L1906.4,855.4 L1906.4,859.1 L1906.3,862.9 L1906.3,866.6 L1906.3,870.4 L1906.2,874.1 L1906.2,877.9 L1906.1,881.6 L1906.0,885.4 L1905.9,889.1 L1905.8,892.9 L1905.7,896.6 L1905.6,900.4 L1905.5,904.1 L1905.3,907.9 L1905.2,911.6 L1905.0,915.4 L1904.8,919.1 L1904.7,922.9 L1904.5,926.6 L1904.3,930.4 L1904.1,934.2 L1903.9,937.9 L1903.6,941.7 L1903.4,945.4 L1903.2,949.2 L1902.9,953.0 L1902.7,956.7 L1902.4,960.5 L1902.2,964.2 L1901.9,968.0 L1901.7,971.8 L1901.4,975.5 L1901.1,979.3 L1900.8,983.0 L1900.5,986.8 L1900.3,990.6 L1900.0,994.3 L1899.7,998.1 L1899.4,1001.8 L1899.1,1005.6 L1898.8,1009.3 L1898.5,1013.1 L1898.1,1016.8 L1897.8,1020.6 L1897.5,1024.4 L1897.2,1028.1 L1896.9,1031.9 L1896.5,1035.6 L1896.2,1039.4 L1895.9,1043.1 L1895.5,1046.9 L1895.2,1050.6 L1894.9,1054.4 L1894.5,1058.1 L1894.2,1061.9 L1893.8,1065.6 L1893.5,1069.4 L1893.1,1073.1 L1892.8,1076.9 L1892.4,1080.6 L1892.0,1084.4 L1891.7,1088.1 L1891.3,1091.9 L1891.0,1095.6 L1890.6,1099.4 L1890.2,1103.1 L1889.8,1106.9 L1889.5,1110.6 L1889.1,1114.3 L1888.7,1118.1 L1888.4,1121.8 L1888.0,1125.6 L1887.6,1129.3 L1887.2,1133.1 L1886.8,1136.8 L1886.5,1140.6 L1886.1,1144.3 L1885.7,1148.1 L1885.3,1151.8 L1884.9,1155.6 L1884.5,1159.3 L1884.2,1163.0 L1883.8,1166.8 L1883.4,1170.5 L1883.0,1174.3 L1882.6,1178.0 L1882.2,1181.8 L1881.8,1185.5 L1881.5,1189.3 L1881.1,1193.0 L1880.7,1196.7 L1880.3,1200.5 L1879.9,1204.2 L1879.5,1208.0 L1879.1,1211.7 L1878.8,1215.5 L1878.4,1219.2 L1878.0,1223.0 L1877.6,1226.7 L1877.2,1230.4 L1876.8,1234.2 L1876.5,1237.9 L1876.1,1241.7 L1875.7,1245.4 L1875.3,1249.2 L1874.9,1252.9 L1874.6,1256.7 L1874.2,1260.4 L1873.8,1264.1 L1873.5,1267.9 L1873.1,1271.6 L1872.7,1275.4 L1872.3,1279.1 L1872.0,1282.9 L1871.6,1286.6 L1871.3,1290.4 L1870.9,1294.1 L1870.5,1297.9 L1870.2,1301.6 L1869.8,1305.4 L1869.5,1309.1 L1869.1,1312.9 L1868.8,1316.6 L1868.4,1320.3 L1868.1,1324.1 L1867.8,1327.8 L1867.4,1331.6 L1867.1,1335.3 L1866.8,1339.1 L1866.4,1342.8 L1866.1,1346.6 L1865.8,1350.3 L1865.5,1354.1 L1865.2,1357.8 L1864.8,1361.6 L1864.5,1365.3 L1864.2,1369.1 L1863.9,1372.9 L1863.6,1376.6 L1863.3,1380.4 L1863.0,1384.1 L1862.8,1387.9 L1862.5,1391.6 L1862.2,1395.4 L1861.9,1399.1 L1861.6,1402.9 L1861.4,1406.6 L1861.1,1410.4 L1860.8,1414.2 L1860.6,1417.9 L1860.3,1421.7 L1860.1,1425.4 L1859.8,1429.2 L1859.6,1433.0 L1859.4,1436.7 L1859.1,1440.5 L1858.9,1444.2 L1858.7,1448.0" stroke="#808000"/>
<path d="M1208.6,1448.0 L1210.7,1445.1 L1212.8,1442.2 L1214.9,1439.3 L1217.0,1436.4 L1219.2,1433.5 L1221.3,1430.6 L1223.4,1427.7 L1225.5,1424.8 L1227.6,1421.9 L1229.7,1419.0 L1231.8,1416.0 L1234.0,1413.1 L1236.1,1410.2 L1238.2,1407.3 L1240.3,1404.4 L1242.4,1401.5 L1244.5,1398.6 L1246.7,1395.7 L1248.8,1392.8 L1250.9,1389.9 L1253.0,1387.0 L1255.1,1384.1 L1257.2,1381.2 L1259.3,1378.3 L1261.5,1375.4 L1263.6,1372.5 L1265.7,1369.6 L1267.8,1366.7 L1269.9,1363.9 L1272.0,1361.0 L1274.2,1358.1 L1276.3,1355.2 L1278.4,1352.3 L1280.5,1349.4 L1282.6,1346.5 L1284.8,1343.6 L1286.9,1340.7 L1289.0,1337.8 L1291.1,1334.9 L1293.2,1332.0 L1295.3,1329.1 L1297.5,1326.2 L1299.6,1323.3 L1301.7,1320.4 L1303.8,1317.5 L1305.9,1314.6 L1308.1,1311.7 L1310.2,1308.8 L1312.3,1305.9 L1314.4,1303.0 L1316.5,1300.2 L1318.7,1297.3 L1320.8,1294.4 L1322.9,1291.5 L1325.0,1288.6 L1327.1,1285.7 L1329.3,1282.8 L1331.4,1279.9 L1333.5,1277.0 L1335.6,1274.1 L1337.7,1271.2 L1339.9,1268.3 L1342.0,1265.4 L1344.1,1262.5 L1346.2,1259.6 L1348.3,1256.8 L1350.5,1253.9 L1352.6,1251.0 L1354.7,1248.1 L1356.8,1245.2 L1358.9,1242.3 L1361.1,1239.4 L1363.2,1236.5 L1365.3,1233.6 L1367.4,1230.7 L1369.5,1227.8 L1371.7,1224.9 L1373.8,1222.0 L1375.9,1219.2 L1378.0,1216.3 L1380.2,1213.4 L1382.3,1210.5 L1384.4,1207.6 L1386.5,1204.7 L1388.6,1201.8 L1390.8,1198.9 L1392.9,1196.0 L1395.0,1193.1 L1397.1,1190.2 L1399.2,1187.3 L1401.4,1184.4 L1403.5,1181.5 L1405.6,1178.7 L1407.7,1175.8 L1409.8,1172.9 L1412.0,1170.0 L1414.1,1167.1 L1416.2,1164.2 L1418.3,1161.3 L1420.5,1158.4 L1422.6,1155.5 L1424.7,1152.6 L1426.8,1149.7 L1428.9,1146.8 L1431.1,1143.9 L1433.2,1141.0 L1435.3,1138.1 L1437.4,1135.2 L1439.5,1132.3 L1441.7,1129.4 L1443.8,1126.5 L1445.9,1123.6 L1448.0,1120.7 L1450.1,1117.9 L1452.3,1115.0 L1454.4,1112.1 L1456.5,1109.2 L1458.6,1106.3 L1460.7,1103.4 L1462.9,1100.5 L1465.0,1097.6 L1467.1,1094.7 L1469.2,1091.8 L1471.3,1088.9 L1473.5,1086.0 L1475.6,1083.1 L1477.7,1080.2 L1479.8,1077.3 L1481.9,1074.4 L1484.1,1071.5 L1486.2,1068.6 L1488.3,1065.7 L1490.4,1062.8 L1492.5,1059.9 L1494.7,1057.0 L1496.8,1054.1 L1498.9,1051.2 L1501.1,1048.3 L1503.2,1045.4 L1505.3,1042.5 L1507.4,1039.6 L1509.6,1036.7 L1511.7,1033.8 L1513.8,1030.9 L1516.0,1028.0 L1518.1,1025.2 L1520.2,1022.3 L1522.4,1019.4 L1524.5,1016.5 L1526.7,1013.6 L1528.8,1010.7 L1530.9,1007.8 L1533.1,1005.0 L1535.2,1002.1 L1537.4,999.2 L1539.5,996.3 L1541.7,993.5 L1543.8,990.6 L1546.0,987.7 L1548.2,984.8 L1550.3,982.0 L1552.5,979.1 L1554.7,976.2 L1556.8,973.4 L1559.0,970.5 L1561.2,967.7 L1563.3,964.8 L1565.5,962.0 L1567.7,959.1 L1569.9,956.2 L1572.1,953.4 L1574.3,950.6 L1576.5,947.7 L1578.6,944.9 L1580.8,942.0 L1583.0,939.2 L1585.2,936.4 L1587.5,933.5 L1589.7,930.7 L1591.9,927.9 L1594.1,925.1 L1596.3,922.2 L1598.5,919.4 L1600.8,916.6 L1603.0,913.8 L1605.2,911.0 L1607.5,908.2 L1609.7,905.4 L1611.9,902.6 L1614.2,899.8 L1616.4,897.0 L1618.7,894.2 L1620.9,891.4 L1623.2,888.6 L1625.5,885.9 L1627.7,883.1 L1630.0,880.3 L1632.3,877.5 L1634.6,874.8 L1636.9,872.0 L1639.2,869.3 L1641.5,866.5 L1643.8,863.8 L1646.1,861.0 L1648.4,858.3 L1650.7,855.5 L1653.0,852.8 L1655.3,850.1 L1657.7,847.3 L1660.0,844.6 L1662.3,841.9 L1664.7,839.2 L1667.0,836.5 L1669.4,833.8 L1671.7,831.1 L1674.1,828.4 L1676.5,825.7 L1678.8,823.0 L1681.2,820.3 L1683.6,817.7 L1686.0,815.0 L1688.4,812.3 L1690.8,809.7 L1693.2,807.0 L1695.6,804.4 L1698.0,801.7 L1700.5,799.1 L1702.9,796.4 L1705.3,793.8 L1707.8,791.2 L1710.2,788.5 L1712.7,785.9 L1715.1,783.3 L1717.6,780.7 L1720.1,778.1 L1722.6,775.5 L1725.0,772.9 L1727.5,770.4 L1730.0,767.8 L1732.5,765.2 L1735.0,762.6 L1737.6,760.1 L1740.1,757.6 L1742.7,755.1 L1745.3,752.6 L1747.9,750.1 L1750.5,747.7 L1753.2,745.3 L1755.9,743.0 L1758.7,740.6 L1761.5,738.4 L1764.3,736.2 L1767.2,734.0 L1770.1,731.9 L1773.1,729.9 L1776.1,727.9 L1779.1,726.0 L1782.2,724.1 L1785.3,722.3 L1788.5,720.6 L1791.7,718.9 L1794.9,717.3 L1798.2,715.8 L1801.5,714.4 L1804.8,713.0 L1808.2,711.8 L1811.6,710.6 L1815.0,709.5 L1818.5,708.5 L1822.0,707.6 L1825.5,706.8 L1829.0,706.1 L1832.5,705.5 L1836.0,705.0 L1839.6,704.6 L1843.2,704.3 L1846.8,704.2 L1850.3,704.1 L1853.9,704.2 L1857.5,704.4 L1861.1,704.7 L1864.7,705.1 L1868.3,705.7 L1871.9,706.4 L1875.4,707.3 L1879.0,708.2 L1882.5,709.4 L1885.9,710.6 L1889.3,712.1 L1892.5,713.6 L1895.7,715.4 L1898.7,717.2 L1901.6,719.3 L1904.3,721.5 L1906.9,723.9 L1909.3,726.4 L1911.5,729.1 L1913.5,731.9 L1915.4,734.8 L1917.1,737.9 L1918.6,741.0 L1920.0,744.3 L1921.3,747.6 L1922.4,751.0 L1923.4,754.4 L1924.3,757.9 L1925.1,761.4 L1925.8,765.0 L1926.5,768.5 L1927.1,772.1 L1927.7,775.7 L1928.3,779.3 L1928.9,782.9 L1929.6,786.5 L1930.2,790.1 L1930.8,793.6 L1931.4,797.2 L1932.1,800.7 L1932.7,804.3 L1933.2,807.8 L1933.8,811.4 L1934.3,814.9 L1934.8,818.5 L1935.3,822.0 L1935.7,825.6 L1936.2,829.1 L1936.6,832.7 L1937.0,836.3 L1937.3,839.8 L1937.7,843.4 L1938.0,846.9 L1938.3,850.5 L1938.6,854.1 L1938.8,857.6 L1939.1,861.2 L1939.3,864.8 L1939.5,868.4 L1939.7,871.9 L1939.9,875.5 L1940.0,879.1 L1940.2,882.7 L1940.3,886.2 L1940.4,889.8 L1940.5,893.4 L1940.6,897.0 L1940.6,900.5 L1940.7,904.1 L1940.7,907.7 L1940.7,911.3 L1940.7,914.9 L1940.7,918.5 L1940.7,922.0 L1940.6,925.6 L1940.6,929.2 L1940.5,932.8 L1940.4,936.4 L1940.3,940.0 L1940.2,943.6 L1940.1,947.2 L1940.0,950.7 L1939.9,954.3 L1939.7,957.9 L1939.6,961.5 L1939.4,965.1 L1939.3,968.7 L1939.1,972.3 L1938.9,975.9 L1938.7,979.4 L1938.5,983.0 L1938.3,986.6 L1938.1,990.2 L1937.9,993.8 L1937.7,997.4 L1937.4,1001.0 L1937.2,1004.6 L1937.0,1008.1 L1936.7,1011.7 L1936.5,1015.3 L1936.2,1018.9 L1936.0,1022.5 L1935.7,1026.1 L1935.5,1029.7 L1935.2,1033.2 L1934.9,1036.8 L1934.7,1040.4 L1934.4,1044.0 L1934.1,1047.6 L1933.9,1051.2 L1933.6,1054.7 L1933.3,1058.3 L1933.0,1061.9 L1932.7,1065.5 L1932.4,1069.1 L1932.1,1072.6 L1931.8,1076.2 L1931.5,1079.8 L1931.2,1083.4 L1930.9,1086.9 L1930.6,1090.5 L1930.3,1094.1 L1930.0,1097.7 L1929.7,1101.3 L1929.4,1104.8 L1929.1,1108.4 L1928.8,1112.0 L1928.5,1115.6 L1928.1,1119.1 L1927.8,1122.7 L1927.5,1126.3 L1927.2,1129.9 L1926.8,1133.4 L1926.5,1137.0 L1926.2,1140.6 L1925.9,1144.1 L1925.5,1147.7 L1925.2,1151.3 L1924.9,1154.9 L1924.5,1158.4 L1924.2,1162.0 L1923.8,1165.6 L1923.5,1169.2 L1923.2,1172.7 L1922.8,1176.3 L1922.5,1179.9 L1922.2,1183.4 L1921.8,1187.0 L1921.5,1190.6 L1921.1,1194.2 L1920.8,1197.7 L1920.4,1201.3 L1920.1,1204.9 L1919.8,1208.4 L1919.4,1212.0 L1919.1,1215.6 L1918.7,1219.2 L1918.4,1222.7 L1918.0,1226.3 L1917.7,1229.9 L1917.3,1233.4 L1917.0,1237.0 L1916.7,1240.6 L1916.3,1244.2 L1916.0,1247.7 L1915.6,1251.3 L1915.3,1254.9 L1915.0,1258.4 L1914.6,1262.0 L1914.3,1265.6 L1913.9,1269.2 L1913.6,1272.7 L1913.3,1276.3 L1912.9,1279.9 L1912.6,1283.4 L1912.3,1287.0 L1911.9,1290.6 L1911.6,1294.2 L1911.3,1297.7 L1910.9,1301.3 L1910.6,1304.9 L1910.3,1308.4 L1910.0,1312.0 L1909.6,1315.6 L1909.3,1319.2 L1909.0,1322.7 L1908.7,1326.3 L1908.4,1329.9 L1908.0,1333.5 L1907.7,1337.0 L1907.4,1340.6 L1907.1,1344.2 L1906.8,1347.8 L1906.5,1351.3 L1906.2,1354.9 L1905.9,1358.5 L1905.6,1362.1 L1905.3,1365.6 L1905.0,1369.2 L1904.7,1372.8 L1904.4,1376.4 L1904.1,1379.9 L1903.9,1383.5 L1903.6,1387.1 L1903.3,1390.7 L1903.0,1394.3 L1902.8,1397.8 L1902.5,1401.4 L1902.2,1405.0 L1902.0,1408.6 L1901.7,1412.2 L1901.4,1415.7 L1901.2,1419.3 L1900.9,1422.9 L1900.7,1426.5 L1900.5,1430.1 L1900.2,1433.7 L1900.0,1437.2 L1899.8,1440.8 L1899.5,1444.4 L1899.3,1448.0" stroke="#0000FF"/>
</g>
<rect x="276.5" y="59.0" width="1869.5" height="1388.6" fill="none" stroke="#000" stroke-width="4.6"/>
<path d="M434.8,1447.6 V1418.6 M751.7,1447.6 V1418.6 M1068.7,1447.6 V1418.6 M1385.6,1447.6 V1418.6 M1702.5,1447.6 V1418.6 M2019.5,1447.6 V1418.6 M593.2,1447.6 V1432.6 M910.2,1447.6 V1432.6 M1227.1,1447.6 V1432.6 M1544.1,1447.6 V1432.6 M1861.0,1447.6 V1432.6 M276.5,1447.6 H306.5 M276.5,1100.4 H306.5 M276.5,753.3 H306.5 M276.5,406.1 H306.5 M276.5,59.0 H306.5 M276.5,1274.0 H292.5 M276.5,926.9 H292.5 M276.5,579.7 H292.5 M276.5,232.6 H292.5" stroke="#000" stroke-width="4.6" fill="none"/>
<text transform="translate(248 1469.3) scale(0.975 1)" font-family="Liberation Serif, Times New Roman, serif" font-size="81" text-anchor="end">300</text>
<text transform="translate(248 1122.1) scale(0.975 1)" font-family="Liberation Serif, Times New Roman, serif" font-size="81" text-anchor="end">350</text>
<text transform="translate(248 775.0) scale(0.975 1)" font-family="Liberation Serif, Times New Roman, serif" font-size="81" text-anchor="end">400</text>
<text transform="translate(248 427.8) scale(0.975 1)" font-family="Liberation Serif, Times New Roman, serif" font-size="81" text-anchor="end">450</text>
<text transform="translate(248 80.7) scale(0.975 1)" font-family="Liberation Serif, Times New Roman, serif" font-size="81" text-anchor="end">500</text>
<text transform="translate(435.1 1537) scale(0.97 1)" font-family="Liberation Serif, Times New Roman, serif" font-size="81" text-anchor="middle">0.0</text>
<text transform="translate(752.0 1537) scale(0.97 1)" font-family="Liberation Serif, Times New Roman, serif" font-size="81" text-anchor="middle">0.5</text>
<text transform="translate(1069.0 1537) scale(0.97 1)" font-family="Liberation Serif, Times New Roman, serif" font-size="81" text-anchor="middle">1.0</text>
<text transform="translate(1385.9 1537) scale(0.97 1)" font-family="Liberation Serif, Times New Roman, serif" font-size="81" text-anchor="middle">1.5</text>
<text transform="translate(1702.8 1537) scale(0.97 1)" font-family="Liberation Serif, Times New Roman, serif" font-size="81" text-anchor="middle">2.0</text>
<text transform="translate(2019.8 1537) scale(0.97 1)" font-family="Liberation Serif, Times New Roman, serif" font-size="81" text-anchor="middle">2.5</text>
<text x="0" y="0" transform="translate(97,754.5) rotate(-90)" font-family="Liberation Serif, Times New Roman, serif" font-size="85" text-anchor="middle">Temperature (K)</text>
<text x="1245.5" y="1633.5" font-family="Liberation Serif, Times New Roman, serif" font-size="85" text-anchor="middle">Entropy [kJ/(kg·K)]</text>
<line x1="346" y1="182.5" x2="468" y2="182.5" stroke="#000000" stroke-width="3.6"/>
<text transform="translate(476.5 199.8) scale(0.972 1)" font-family="Liberation Serif, Times New Roman, serif" font-size="55">R601a</text>
<line x1="346" y1="247.4" x2="468" y2="247.4" stroke="#FF0000" stroke-width="3.6"/>
<text transform="translate(479.2 265.7) scale(1.0 1)" font-family="Liberation Serif, Times New Roman, serif" font-size="55" font-style="italic">M</text>
<text x="521.6" y="282.3" font-family="Liberation Serif, Times New Roman, serif" font-size="31.5">R600a</text>
<text transform="translate(599.6 261.7) scale(1.2 0.9)" font-family="Liberation Serif, Times New Roman, serif" font-size="55">=</text>
<text transform="translate(644 265.9) scale(0.96 1)" font-family="Liberation Serif, Times New Roman, serif" font-size="55">0.1</text>
<line x1="346" y1="327.1" x2="468" y2="327.1" stroke="#00FF00" stroke-width="3.6"/>
<text transform="translate(479.2 345.4) scale(1.0 1)" font-family="Liberation Serif, Times New Roman, serif" font-size="55" font-style="italic">M</text>
<text x="521.6" y="362.0" font-family="Liberation Serif, Times New Roman, serif" font-size="31.5">R600a</text>
<text transform="translate(599.6 341.4) scale(1.2 0.9)" font-family="Liberation Serif, Times New Roman, serif" font-size="55">=</text>
<text transform="translate(644 345.6) scale(0.96 1)" font-family="Liberation Serif, Times New Roman, serif" font-size="55">0.2</text>
<line x1="346" y1="406.7" x2="468" y2="406.7" stroke="#0000A0" stroke-width="3.6"/>
<text transform="translate(479.2 425.0) scale(1.0 1)" font-family="Liberation Serif, Times New Roman, serif" font-size="55" font-style="italic">M</text>
<text x="521.6" y="441.6" font-family="Liberation Serif, Times New Roman, serif" font-size="31.5">R600a</text>
<text transform="translate(599.6 421.0) scale(1.2 0.9)" font-family="Liberation Serif, Times New Roman, serif" font-size="55">=</text>
<text transform="translate(644 425.2) scale(0.96 1)" font-family="Liberation Serif, Times New Roman, serif" font-size="55">0.3</text>
<line x1="346" y1="486.4" x2="468" y2="486.4" stroke="#FF00FF" stroke-width="3.6"/>
<text transform="translate(479.2 504.7) scale(1.0 1)" font-family="Liberation Serif, Times New Roman, serif" font-size="55" font-style="italic">M</text>
<text x="521.6" y="521.3" font-family="Liberation Serif, Times New Roman, serif" font-size="31.5">R600a</text>
<text transform="translate(599.6 500.7) scale(1.2 0.9)" font-family="Liberation Serif, Times New Roman, serif" font-size="55">=</text>
<text transform="translate(644 504.9) scale(0.96 1)" font-family="Liberation Serif, Times New Roman, serif" font-size="55">0.4</text>
<line x1="346" y1="566.0" x2="468" y2="566.0" stroke="#000080" stroke-width="3.6"/>
<text transform="translate(479.2 584.3) scale(1.0 1)" font-family="Liberation Serif, Times New Roman, serif" font-size="55" font-style="italic">M</text>
<text x="521.6" y="600.9" font-family="Liberation Serif, Times New Roman, serif" font-size="31.5">R600a</text>
<text transform="translate(599.6 580.3) scale(1.2 0.9)" font-family="Liberation Serif, Times New Roman, serif" font-size="55">=</text>
<text transform="translate(644 584.5) scale(0.96 1)" font-family="Liberation Serif, Times New Roman, serif" font-size="55">0.5</text>
<line x1="346" y1="645.7" x2="468" y2="645.7" stroke="#008000" stroke-width="3.6"/>
<text transform="translate(479.2 664.0) scale(1.0 1)" font-family="Liberation Serif, Times New Roman, serif" font-size="55" font-style="italic">M</text>
<text x="521.6" y="680.6" font-family="Liberation Serif, Times New Roman, serif" font-size="31.5">R600a</text>
<text transform="translate(599.6 660.0) scale(1.2 0.9)" font-family="Liberation Serif, Times New Roman, serif" font-size="55">=</text>
<text transform="translate(644 664.2) scale(0.96 1)" font-family="Liberation Serif, Times New Roman, serif" font-size="55">0.6</text>
<line x1="346" y1="725.4" x2="468" y2="725.4" stroke="#800080" stroke-width="3.6"/>
<text transform="translate(479.2 743.7) scale(1.0 1)" font-family="Liberation Serif, Times New Roman, serif" font-size="55" font-style="italic">M</text>
<text x="521.6" y="760.3" font-family="Liberation Serif, Times New Roman, serif" font-size="31.5">R600a</text>
<text transform="translate(599.6 739.7) scale(1.2 0.9)" font-family="Liberation Serif, Times New Roman, serif" font-size="55">=</text>
<text transform="translate(644 743.9) scale(0.96 1)" font-family="Liberation Serif, Times New Roman, serif" font-size="55">0.7</text>
<line x1="346" y1="805.0" x2="468" y2="805.0" stroke="#FF8000" stroke-width="3.6"/>
<text transform="translate(479.2 823.3) scale(1.0 1)" font-family="Liberation Serif, Times New Roman, serif" font-size="55" font-style="italic">M</text>
<text x="521.6" y="839.9" font-family="Liberation Serif, Times New Roman, serif" font-size="31.5">R600a</text>
<text transform="translate(599.6 819.3) scale(1.2 0.9)" font-family="Liberation Serif, Times New Roman, serif" font-size="55">=</text>
<text transform="translate(644 823.5) scale(0.96 1)" font-family="Liberation Serif, Times New Roman, serif" font-size="55">0.8</text>
<line x1="346" y1="884.7" x2="468" y2="884.7" stroke="#808000" stroke-width="3.6"/>
<text transform="translate(479.2 903.0) scale(1.0 1)" font-family="Liberation Serif, Times New Roman, serif" font-size="55" font-style="italic">M</text>
<text x="521.6" y="919.6" font-family="Liberation Serif, Times New Roman, serif" font-size="31.5">R600a</text>
<text transform="translate(599.6 899.0) scale(1.2 0.9)" font-family="Liberation Serif, Times New Roman, serif" font-size="55">=</text>
<text transform="translate(644 903.2) scale(0.96 1)" font-family="Liberation Serif, Times New Roman, serif" font-size="55">0.9</text>
<line x1="346" y1="964.3" x2="468" y2="964.3" stroke="#0000FF" stroke-width="3.6"/>
<text transform="translate(476.5 981.6) scale(0.972 1)" font-family="Liberation Serif, Times New Roman, serif" font-size="55">R600a</text>
<text transform="translate(964 365.8) scale(0.99 1)" font-family="Liberation Serif, Times New Roman, serif" font-size="66">R601a</text>
<line x1="1071.8" y1="390.9" x2="1102.2" y2="455.8" stroke="#000" stroke-width="3.2"/>
<text transform="translate(1906 659.4) scale(0.98 1)" font-family="Liberation Serif, Times New Roman, serif" font-size="66">R600a</text>
<line x1="1921.4" y1="745.5" x2="1974.5" y2="677.9" stroke="#0000FF" stroke-width="3.2"/>
</g>
</svg>
</body></html>
